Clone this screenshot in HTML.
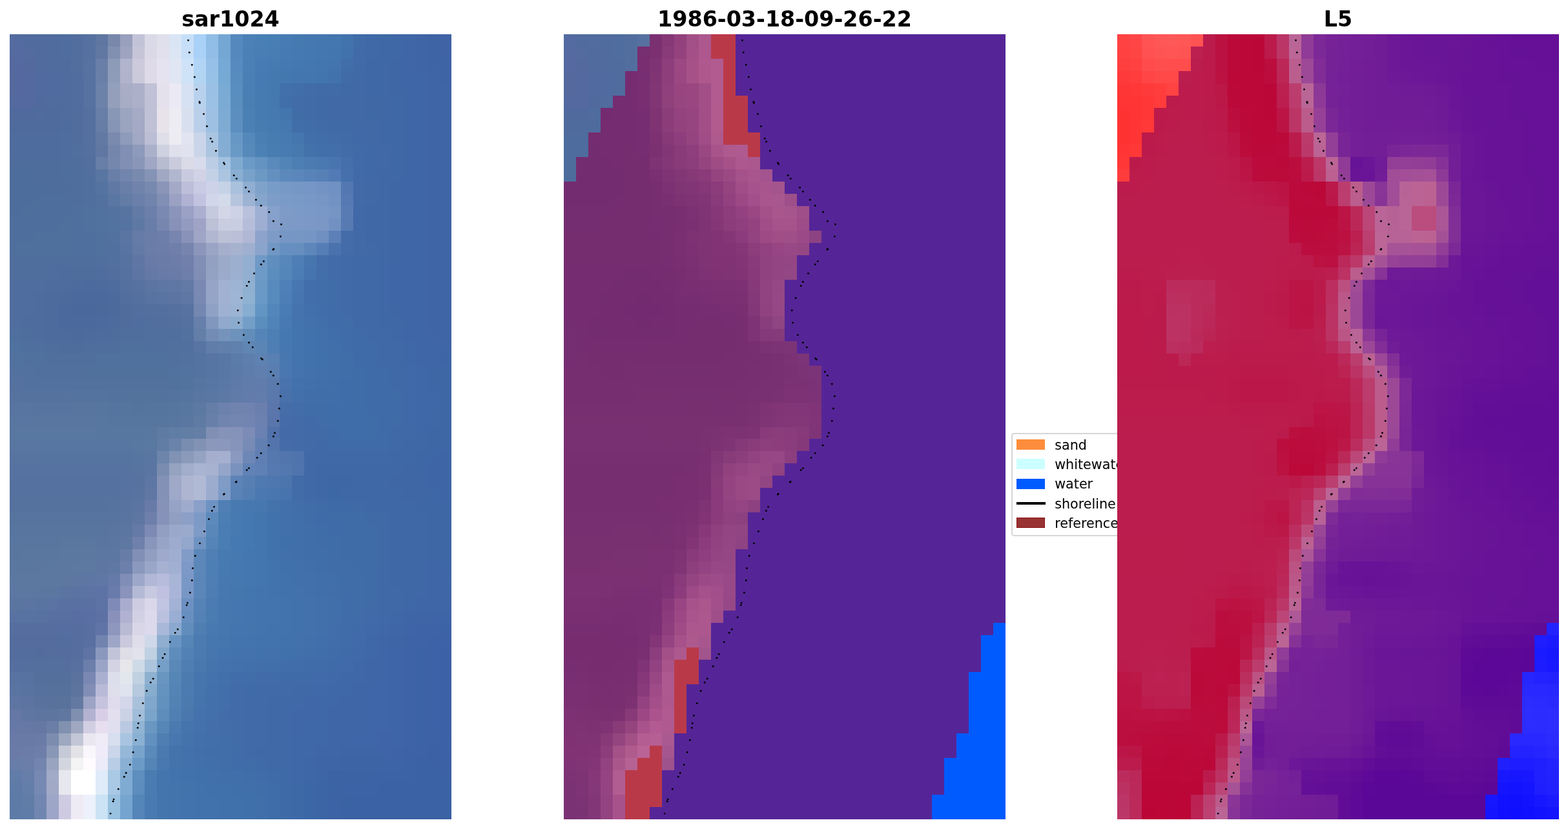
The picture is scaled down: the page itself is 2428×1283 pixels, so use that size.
<!DOCTYPE html>
<html lang="en">
<head>
<meta charset="utf-8">
<title>sar1024 1986-03-18-09-26-22 L5</title>
<style>
html,body{margin:0;padding:0;background:#fff}
html{width:2428px;height:1283px}
body{width:2428px;height:1283px;position:relative;font-family:"DejaVu Sans","Liberation Sans",sans-serif;color:#000}
.ax{position:absolute;top:53px;width:684px;height:1215px;overflow:hidden}
.ax i{position:absolute;left:0;width:684px;display:block}
.ax svg.sl{position:absolute;left:0;top:0}
h1{position:absolute;margin:0;top:9.6px;width:684px;text-align:center;font-weight:bold;font-size:33.33px;line-height:39px;height:39px;white-space:nowrap}
#legend{position:absolute;left:1565.9px;top:669.8px;width:260px;height:160.4px;box-sizing:border-box;border:2.2px solid rgba(204,204,204,.8);border-radius:4.5px;background:#fff;font-size:20.7px}
#legend .sw{position:absolute;left:6.0px;width:44px;height:16px}
#legend .ln{position:absolute;left:5.8px;width:45px;height:4px;background:#000}
#legend span{position:absolute;left:65.3px;line-height:26px;height:26px;white-space:nowrap}
</style>
</head>
<body>
<h1 style="left:15px">sar1024</h1>
<h1 style="left:873px">1986-03-18-09-26-22</h1>
<h1 style="left:1730px">L5</h1>
<div class="ax" id="ax1" style="left:15px">
<i style="top:0px;height:19px;background:linear-gradient(90deg,#536ba0 0 19px,#526b9f 0 38px,#516c9f 0 57px,#506c9f 0 76px,#506d9f 0 95px,#526e9f 0 114px,#5671a0 0 133px,#5e76a1 0 152px,#7888ab 0 171px,#99a0bd 0 190px,#c3c3d8 0 209px,#d9d9e7 0 228px,#dfe0eb 0 247px,#d9e5f4 0 266px,#c6dff9 0 285px,#aad1f7 0 304px,#90bde6 0 323px,#75a7d4 0 342px,#5589bd 0 361px,#4b81b6 0 380px,#487fb5 0 399px,#477eb4 0 418px,#467cb3 0 437px,#457ab1 0 456px,#4578b0 0 475px,#4477b0 0 494px,#4476af 0 513px,#4373ad 0 532px,#406ca8 0 551px,#3f6aa7 0 570px,#3f69a6 0 589px,#3f68a6 0 608px,#3f67a6 0 627px,#3f65a6 0 646px,#3f64a5 0 665px,#3f63a5 0)"></i>
<i style="top:19px;height:19px;background:linear-gradient(90deg,#546aa0 0 19px,#536b9f 0 38px,#516b9f 0 57px,#506c9f 0 76px,#506d9f 0 95px,#516e9f 0 114px,#5671a0 0 133px,#6078a2 0 152px,#8190b0 0 171px,#9ea4bf 0 190px,#c6c5d8 0 209px,#dbd9e7 0 228px,#e1e0ec 0 247px,#dbe5f4 0 266px,#c8dff9 0 285px,#aad1f7 0 304px,#91bde6 0 323px,#75a7d4 0 342px,#5589be 0 361px,#4a80b6 0 380px,#487eb4 0 399px,#467db3 0 418px,#457bb2 0 437px,#4479b1 0 456px,#4478b0 0 475px,#4477af 0 494px,#4375ae 0 513px,#4272ac 0 532px,#406ba8 0 551px,#3f6aa7 0 570px,#3f68a6 0 608px,#3f66a6 0 627px,#3f65a6 0 646px,#3f64a6 0 665px,#3f63a5 0)"></i>
<i style="top:38px;height:19px;background:linear-gradient(90deg,#5669a0 0 19px,#546a9f 0 38px,#516b9f 0 57px,#506c9f 0 95px,#516e9f 0 114px,#5772a1 0 133px,#697fa7 0 152px,#8e9bb8 0 171px,#b0b4cc 0 190px,#cccadb 0 209px,#dedae7 0 228px,#e5e3ef 0 247px,#e0e6f4 0 266px,#cee3f8 0 285px,#b2d5f5 0 304px,#96c0e7 0 323px,#76a9d5 0 342px,#578bbf 0 361px,#4a80b5 0 380px,#467cb3 0 399px,#457bb1 0 418px,#4479b1 0 437px,#4478b0 0 456px,#4477af 0 475px,#4376af 0 494px,#4374ad 0 513px,#416da9 0 532px,#406ba7 0 551px,#3f69a6 0 570px,#3f68a6 0 589px,#3f67a6 0 608px,#3f66a6 0 627px,#3f65a6 0 646px,#3f64a6 0)"></i>
<i style="top:57px;height:19px;background:linear-gradient(90deg,#56699f 0 19px,#54699f 0 38px,#516a9f 0 57px,#506b9f 0 76px,#506c9f 0 95px,#516d9f 0 114px,#5772a1 0 133px,#6a7fa7 0 152px,#8f9cb9 0 171px,#b0b3cb 0 190px,#cbcadb 0 209px,#dedae7 0 228px,#e5e3ef 0 247px,#e0e6f4 0 266px,#cee3f8 0 285px,#b2d5f4 0 304px,#97c1e6 0 323px,#77a9d5 0 342px,#578cbf 0 361px,#497fb5 0 380px,#457bb2 0 399px,#4479b0 0 418px,#4378af 0 437px,#4376ae 0 456px,#4375ae 0 475px,#4274ad 0 494px,#4272ac 0 513px,#406ba7 0 532px,#406aa6 0 551px,#3f69a6 0 570px,#3f68a6 0 589px,#3f67a6 0 608px,#3f66a6 0 646px,#3f65a6 0 665px,#3f64a6 0)"></i>
<i style="top:76px;height:19px;background:linear-gradient(90deg,#56699f 0 19px,#54699f 0 38px,#516a9f 0 57px,#506b9f 0 76px,#506c9f 0 95px,#516d9f 0 114px,#5771a0 0 133px,#6d82a9 0 152px,#94a0bb 0 171px,#a9adc6 0 190px,#adb0c9 0 209px,#c1c1d7 0 228px,#e5e1ec 0 247px,#ebe9f4 0 266px,#d6e1f3 0 285px,#b8d2ee 0 304px,#9ac1e5 0 323px,#7aabd5 0 342px,#598ec0 0 361px,#497fb4 0 380px,#457bb1 0 399px,#4479b0 0 418px,#4270aa 0 437px,#416ea9 0 456px,#416ca8 0 475px,#406ba7 0 513px,#406aa6 0 532px,#4069a6 0 551px,#3f68a6 0 589px,#3f67a6 0 627px,#3f66a6 0 646px,#3f65a6 0)"></i>
<i style="top:95px;height:19px;background:linear-gradient(90deg,#54699f 0 19px,#53699f 0 38px,#506a9e 0 57px,#506b9e 0 95px,#516c9f 0 114px,#5771a0 0 133px,#6d82a9 0 152px,#94a0bb 0 171px,#a7adc5 0 190px,#acb0c8 0 209px,#c0c1d6 0 228px,#e5e1ec 0 247px,#ebe9f4 0 266px,#d6e1f3 0 285px,#b8d2ee 0 304px,#9bc1e4 0 323px,#7babd5 0 342px,#5a8ebf 0 361px,#497fb3 0 380px,#467bb1 0 399px,#4478af 0 418px,#416fa9 0 437px,#416ca7 0 456px,#406ba6 0 475px,#406aa6 0 494px,#4069a6 0 513px,#4069a5 0 551px,#3f68a5 0 589px,#3f68a6 0 608px,#3f67a6 0 627px,#3f66a6 0 646px,#3f65a6 0)"></i>
<i style="top:114px;height:19px;background:linear-gradient(90deg,#516a9e 0 19px,#506a9e 0 38px,#506b9e 0 57px,#4f6b9e 0 76px,#506c9e 0 95px,#516d9e 0 114px,#55709f 0 133px,#677ea6 0 152px,#8897b5 0 171px,#9ca5c0 0 190px,#a5abc5 0 209px,#c0c1d6 0 228px,#e8e3eb 0 247px,#edecf3 0 266px,#d8e0ef 0 285px,#bacfea 0 304px,#9dc0e3 0 323px,#7dabd4 0 342px,#5c8fc0 0 361px,#4a80b4 0 380px,#467bb1 0 399px,#4579af 0 418px,#4376ad 0 437px,#416da7 0 456px,#406ba6 0 475px,#406aa6 0 494px,#4069a6 0 513px,#4069a5 0 551px,#3f69a5 0 570px,#3f68a5 0 589px,#3f68a6 0 608px,#3f67a6 0 627px,#3f66a6 0 646px,#3f65a6 0)"></i>
<i style="top:133px;height:19px;background:linear-gradient(90deg,#4f6b9e 0 76px,#4f6c9e 0 95px,#516d9e 0 114px,#55709f 0 133px,#677da5 0 152px,#8695b5 0 171px,#9aa4bf 0 190px,#a4aac5 0 209px,#c0c1d7 0 228px,#e8e3eb 0 247px,#edecf3 0 266px,#d8e0ef 0 285px,#bacfe9 0 304px,#9ec0e2 0 323px,#7fabd3 0 342px,#5d90c0 0 361px,#4b80b4 0 380px,#477cb1 0 399px,#457ab0 0 418px,#4478ae 0 437px,#416ea8 0 456px,#406ca7 0 475px,#406ba6 0 494px,#406aa6 0 532px,#4069a6 0 570px,#3f68a6 0 608px,#3f67a6 0 627px,#3f66a6 0 646px,#3f65a6 0)"></i>
<i style="top:152px;height:19px;background:linear-gradient(90deg,#4e6c9e 0 57px,#4f6c9e 0 76px,#4f6d9e 0 95px,#506d9e 0 114px,#54709f 0 133px,#627aa3 0 152px,#798aae 0 171px,#8e9bba 0 190px,#a1a8c4 0 209px,#bbbed4 0 228px,#dfdfe9 0 247px,#ececf2 0 266px,#e2e4f1 0 285px,#cad5ea 0 304px,#a9c4e1 0 323px,#84add4 0 342px,#6797c5 0 361px,#5488ba 0 380px,#4a7fb3 0 399px,#477cb1 0 418px,#467ab0 0 437px,#4577ae 0 456px,#426fa9 0 475px,#416da8 0 494px,#416ca7 0 513px,#406ba7 0 532px,#406aa7 0 551px,#4069a6 0 570px,#3f69a6 0 589px,#3f68a6 0 608px,#3f67a6 0 627px,#3f66a6 0 646px,#3f65a6 0)"></i>
<i style="top:171px;height:19px;background:linear-gradient(90deg,#4e6c9e 0 57px,#4e6d9e 0 76px,#4f6d9e 0 95px,#506e9e 0 114px,#54709f 0 133px,#5f77a2 0 152px,#7486ac 0 171px,#808fb3 0 190px,#8e9abb 0 209px,#abb1cb 0 228px,#ced1df 0 247px,#dfe0eb 0 266px,#e0e2ef 0 285px,#cbd5ea 0 304px,#abc4e0 0 323px,#85add3 0 342px,#6999c5 0 361px,#578abb 0 380px,#4b81b4 0 399px,#487db2 0 418px,#477bb1 0 437px,#4779af 0 456px,#4372ab 0 475px,#426faa 0 494px,#426ea9 0 513px,#416ca8 0 532px,#406ba7 0 551px,#406aa7 0 570px,#4069a6 0 589px,#3f68a6 0 608px,#3f67a6 0 627px,#3f66a6 0 646px,#3f65a6 0)"></i>
<i style="top:190px;height:19px;background:linear-gradient(90deg,#4e6d9d 0 76px,#4f6d9d 0 95px,#506e9d 0 114px,#526f9e 0 133px,#677ea6 0 152px,#7587ad 0 171px,#808fb3 0 190px,#8996b8 0 209px,#9fa7c4 0 228px,#b8bcd1 0 247px,#caccdd 0 266px,#dbdbe7 0 285px,#d7dbeb 0 304px,#bbcde5 0 323px,#a3c1e0 0 342px,#80aad0 0 361px,#6c9ac6 0 380px,#6493c1 0 399px,#598abb 0 418px,#5284b7 0 437px,#4d7eb4 0 456px,#4b7bb1 0 475px,#4a78b0 0 494px,#4975af 0 513px,#446faa 0 532px,#416ba8 0 551px,#406aa7 0 570px,#4069a6 0 589px,#3f68a6 0 608px,#3f67a6 0 627px,#3f66a6 0 646px,#3f65a6 0)"></i>
<i style="top:209px;height:19px;background:linear-gradient(90deg,#4d6d9d 0 38px,#4e6d9d 0 76px,#4e6e9d 0 95px,#4f6e9d 0 114px,#516f9e 0 133px,#5975a1 0 152px,#697fa7 0 171px,#7285ac 0 190px,#798aaf 0 209px,#8593b5 0 228px,#a0a8c3 0 247px,#b1b7ce 0 266px,#c9cadf 0 285px,#d2d2e6 0 304px,#c3d1e7 0 323px,#abc5e0 0 342px,#88aed2 0 361px,#79a2cb 0 380px,#6c98c4 0 399px,#6490c0 0 418px,#5c89bc 0 437px,#5a86bb 0 456px,#5883b9 0 475px,#5780b7 0 494px,#527ab4 0 513px,#4670ac 0 532px,#416ba8 0 551px,#406aa7 0 570px,#4068a6 0 589px,#3f68a6 0 608px,#3f67a6 0 627px,#3f66a6 0 646px,#3f65a6 0)"></i>
<i style="top:228px;height:19px;background:linear-gradient(90deg,#4d6d9c 0 38px,#4d6d9d 0 57px,#4e6d9d 0 95px,#4f6e9d 0 114px,#506f9e 0 133px,#5573a0 0 152px,#5f79a4 0 171px,#697fa8 0 190px,#7083ab 0 209px,#7889af 0 228px,#8a95b8 0 247px,#a3a9c6 0 266px,#bdbfda 0 285px,#c9cae4 0 304px,#ced2e8 0 323px,#c6d2e6 0 342px,#aac1dd 0 361px,#8faed2 0 380px,#7fa2cb 0 399px,#789cc8 0 418px,#7699c6 0 437px,#7597c6 0 456px,#7596c6 0 475px,#7293c4 0 494px,#7091c3 0 513px,#5277b1 0 532px,#416aa7 0 551px,#4069a6 0 570px,#4068a6 0 589px,#3f67a6 0 608px,#3f66a6 0 646px,#3f65a6 0)"></i>
<i style="top:247px;height:19px;background:linear-gradient(90deg,#4d6d9c 0 38px,#4e6e9c 0 57px,#4e6e9d 0 95px,#4f6e9d 0 114px,#506f9e 0 133px,#53719f 0 152px,#5a76a2 0 171px,#637ca6 0 190px,#6a7fa9 0 209px,#7184ac 0 228px,#828fb5 0 247px,#9aa1c3 0 266px,#b0b2d3 0 285px,#c2c3e1 0 304px,#d2d6ea 0 323px,#d3dbeb 0 342px,#b6c5dd 0 361px,#9cb3d4 0 380px,#86a5cc 0 399px,#7d9dc8 0 418px,#7a9ac7 0 437px,#7999c7 0 456px,#7898c7 0 475px,#7796c6 0 494px,#7292c4 0 513px,#5779b3 0 532px,#416aa7 0 551px,#4069a6 0 570px,#4068a6 0 589px,#3f67a6 0 608px,#3f66a6 0 646px,#3f65a6 0)"></i>
<i style="top:266px;height:19px;background:linear-gradient(90deg,#4d6e9c 0 19px,#4e6e9c 0 38px,#4e6e9d 0 76px,#4e6f9d 0 95px,#4f6f9e 0 114px,#50709e 0 133px,#51719f 0 152px,#5472a0 0 171px,#5774a1 0 190px,#627aa6 0 209px,#6b7faa 0 228px,#7a89b1 0 247px,#8b94bb 0 266px,#9ba1c5 0 285px,#abb0d0 0 304px,#c5cade 0 323px,#d2d6e6 0 342px,#ced2e6 0 361px,#b9c1dc 0 380px,#9eb0d3 0 399px,#86a1cb 0 418px,#7e9bc8 0 437px,#7c9ac7 0 456px,#7b99c7 0 475px,#7a98c7 0 494px,#7695c5 0 513px,#597bb4 0 532px,#4169a7 0 551px,#4068a6 0 589px,#3f67a6 0 608px,#3f66a6 0 646px,#3f65a6 0)"></i>
<i style="top:285px;height:19px;background:linear-gradient(90deg,#4e6f9d 0 76px,#4f6f9d 0 95px,#4f6f9e 0 114px,#50709e 0 133px,#51719f 0 152px,#5272a0 0 171px,#5573a1 0 190px,#5e78a4 0 209px,#697da9 0 228px,#7786af 0 247px,#8892b9 0 266px,#949bc1 0 285px,#9fa4c7 0 304px,#bdc1d8 0 323px,#c9cde0 0 342px,#c9cde1 0 361px,#b5bdda 0 380px,#9eaed2 0 399px,#869fca 0 418px,#7d9ac7 0 437px,#7c99c7 0 456px,#7b98c6 0 475px,#7a97c6 0 494px,#7291c3 0 513px,#577ab3 0 532px,#4169a7 0 551px,#4068a6 0 589px,#3f67a6 0 608px,#3f66a6 0 646px,#3f65a6 0)"></i>
<i style="top:304px;height:19px;background:linear-gradient(90deg,#4e6f9d 0 38px,#4f6f9d 0 95px,#4f709e 0 133px,#50709e 0 152px,#52719f 0 171px,#5a75a2 0 190px,#667ba7 0 209px,#697da8 0 228px,#6c7ea9 0 247px,#7785af 0 266px,#8993ba 0 285px,#9ea5c7 0 304px,#b2b7d1 0 323px,#bdc1d7 0 342px,#bbc0d8 0 361px,#b0b8d6 0 380px,#8da3cb 0 399px,#7e9bc7 0 418px,#7697c5 0 437px,#7696c4 0 456px,#7595c4 0 475px,#7090c1 0 494px,#5c80b7 0 513px,#446ca9 0 532px,#416aa7 0 551px,#4068a6 0 570px,#3f68a6 0 589px,#3f67a6 0 608px,#3f66a6 0 646px,#3f65a6 0)"></i>
<i style="top:323px;height:19px;background:linear-gradient(90deg,#4f6f9d 0 95px,#4f6f9e 0 133px,#50709e 0 152px,#52709f 0 171px,#5874a2 0 190px,#647aa6 0 209px,#6a7ca8 0 228px,#6c7da9 0 247px,#6f7faa 0 266px,#7785ae 0 285px,#8c96bb 0 304px,#9aa4c5 0 323px,#a5afcc 0 342px,#a7b2cf 0 361px,#9fafd0 0 380px,#8aa4cb 0 399px,#7197c4 0 418px,#6690c1 0 437px,#668fc0 0 456px,#5d87bb 0 475px,#547eb5 0 494px,#4a73ae 0 513px,#436ca9 0 532px,#416aa7 0 551px,#4069a6 0 570px,#3f68a6 0 589px,#3f67a6 0 608px,#3f66a6 0 646px,#3f65a6 0)"></i>
<i style="top:342px;height:19px;background:linear-gradient(90deg,#4f6e9e 0 133px,#506e9e 0 152px,#516f9f 0 171px,#5672a0 0 190px,#5f76a4 0 209px,#687aa7 0 228px,#6a7ba8 0 247px,#6c7da9 0 266px,#7080ab 0 285px,#818fb6 0 304px,#94a0c2 0 323px,#9caaca 0 342px,#9cafcf 0 361px,#93aed0 0 380px,#6f99c6 0 399px,#5f8ebf 0 418px,#5787bb 0 437px,#4e7eb5 0 456px,#4776af 0 475px,#436eaa 0 494px,#426ca9 0 513px,#416ba8 0 532px,#406aa7 0 551px,#4069a7 0 570px,#3f68a6 0 589px,#3f67a6 0 608px,#3f66a6 0 646px,#3f65a6 0)"></i>
<i style="top:361px;height:19px;background:linear-gradient(90deg,#4f6e9e 0 57px,#4f6d9e 0 76px,#4e6d9e 0 95px,#4e6d9d 0 133px,#4f6d9e 0 152px,#516e9e 0 171px,#5571a0 0 190px,#5d75a3 0 209px,#6579a6 0 228px,#687aa7 0 247px,#697ba8 0 266px,#6e7fab 0 285px,#808eb6 0 304px,#93a1c3 0 323px,#9baacb 0 342px,#9bafd0 0 361px,#92afd1 0 380px,#6d9ac7 0 399px,#5c8dbf 0 418px,#5486ba 0 437px,#4c7db4 0 456px,#4674ae 0 475px,#426eaa 0 494px,#416ca9 0 513px,#406ba8 0 532px,#406aa7 0 551px,#4069a7 0 570px,#3f68a7 0 589px,#3f67a7 0 608px,#3f66a6 0 646px,#3f65a6 0)"></i>
<i style="top:380px;height:19px;background:linear-gradient(90deg,#4f6d9e 0 57px,#4e6c9e 0 76px,#4e6c9d 0 95px,#4d6b9d 0 114px,#4c6a9d 0 133px,#4d6b9d 0 152px,#4e6c9d 0 171px,#54709f 0 190px,#5772a0 0 209px,#5c74a2 0 228px,#5d76a3 0 247px,#5f77a4 0 266px,#6379a6 0 285px,#7989b3 0 304px,#96a4c7 0 323px,#a0b1d2 0 342px,#9eb4d5 0 361px,#90b0d2 0 380px,#6a99c6 0 399px,#588abd 0 418px,#4f80b7 0 437px,#4776b0 0 456px,#426fab 0 475px,#416da9 0 494px,#406ca8 0 513px,#406aa8 0 532px,#4069a7 0 570px,#3f68a7 0 589px,#3f67a7 0 608px,#3f66a6 0 646px,#3f65a6 0)"></i>
<i style="top:399px;height:19px;background:linear-gradient(90deg,#4f6d9e 0 38px,#4f6c9e 0 57px,#4e6b9e 0 76px,#4d6a9d 0 95px,#4c699d 0 114px,#4b699d 0 133px,#4c699d 0 152px,#4d6a9d 0 171px,#526e9e 0 190px,#54709f 0 209px,#5872a1 0 228px,#5974a2 0 247px,#5b74a2 0 266px,#5f77a5 0 285px,#7889b3 0 304px,#95a5c8 0 323px,#a0b1d2 0 342px,#9eb5d5 0 361px,#8fb1d2 0 380px,#6999c6 0 399px,#578abd 0 418px,#4d7fb6 0 437px,#4675af 0 456px,#426fab 0 475px,#416da9 0 494px,#406ca8 0 513px,#406aa8 0 532px,#4069a7 0 551px,#3f69a7 0 570px,#3f68a7 0 589px,#3f67a7 0 608px,#3f66a6 0 646px,#3f65a6 0)"></i>
<i style="top:418px;height:19px;background:linear-gradient(90deg,#4f6d9e 0 38px,#4e6c9e 0 57px,#4e6b9d 0 76px,#4c699d 0 95px,#4b689d 0 114px,#4b689c 0 133px,#4c699c 0 152px,#4d6a9d 0 171px,#4f6c9d 0 190px,#516e9e 0 209px,#526f9e 0 228px,#536f9f 0 247px,#54709f 0 266px,#5772a1 0 285px,#7387b1 0 304px,#90a1c6 0 323px,#9fb1d2 0 342px,#9bb4d4 0 361px,#87add0 0 380px,#6395c3 0 399px,#5386ba 0 418px,#497bb4 0 437px,#4473ae 0 456px,#4270ac 0 475px,#416eaa 0 494px,#406ca9 0 513px,#406ba8 0 532px,#3f6aa7 0 551px,#3f69a7 0 570px,#3f68a7 0 589px,#3f67a6 0 608px,#3f66a6 0 646px,#3f65a6 0)"></i>
<i style="top:437px;height:19px;background:linear-gradient(90deg,#4f6e9f 0 19px,#4e6d9e 0 38px,#4e6c9e 0 57px,#4d6b9d 0 76px,#4c699d 0 133px,#4c6a9d 0 152px,#4d6b9d 0 171px,#4f6c9d 0 190px,#4f6d9e 0 209px,#506e9e 0 228px,#516e9e 0 247px,#526f9e 0 266px,#5571a0 0 285px,#677fab 0 304px,#8197be 0 323px,#91a9cc 0 342px,#8babce 0 361px,#739ec7 0 380px,#5b8dbd 0 399px,#5083b8 0 418px,#4879b2 0 437px,#4374ae 0 456px,#4271ac 0 475px,#416faa 0 494px,#406da9 0 513px,#406ca8 0 532px,#3f6aa7 0 551px,#3f69a7 0 570px,#3f68a7 0 608px,#3f67a6 0 627px,#3f66a6 0 646px,#3f65a6 0)"></i>
<i style="top:456px;height:19px;background:linear-gradient(90deg,#4f709f 0 19px,#4e6e9e 0 38px,#4e6d9e 0 57px,#4d6c9d 0 76px,#4d6b9d 0 95px,#4d6a9d 0 114px,#4d6c9d 0 133px,#4e6c9d 0 152px,#4e6d9d 0 171px,#4f6e9d 0 190px,#4f6e9e 0 209px,#506e9e 0 228px,#506f9e 0 247px,#516f9e 0 266px,#53719f 0 285px,#647eaa 0 304px,#728cb5 0 323px,#7593bb 0 342px,#6d92bc 0 361px,#628dbb 0 380px,#5585b8 0 399px,#4d7fb5 0 418px,#4577b0 0 437px,#4374ae 0 456px,#4272ac 0 475px,#4170ab 0 494px,#406eaa 0 513px,#406da9 0 532px,#3f6ba8 0 551px,#3f6aa7 0 570px,#3f69a7 0 589px,#3f68a7 0 608px,#3f67a7 0 627px,#3f66a6 0 665px,#3f65a6 0)"></i>
<i style="top:475px;height:19px;background:linear-gradient(90deg,#4f719f 0 19px,#4f709e 0 38px,#4f6f9e 0 57px,#4f6e9d 0 76px,#4e6d9d 0 114px,#4f6e9d 0 171px,#4f6f9d 0 209px,#4f6f9e 0 228px,#506f9e 0 247px,#51709e 0 266px,#52709f 0 285px,#5774a2 0 304px,#607da9 0 323px,#607fab 0 342px,#6081ae 0 361px,#6086b4 0 380px,#5b85b5 0 399px,#4f7eb4 0 418px,#4677b0 0 437px,#4474ae 0 456px,#4272ad 0 475px,#4170ab 0 494px,#406faa 0 513px,#406da9 0 532px,#3f6ca8 0 551px,#3f6ba8 0 570px,#3f6aa7 0 589px,#3f69a7 0 608px,#3f68a7 0 627px,#3f67a7 0 646px,#3f66a6 0)"></i>
<i style="top:494px;height:19px;background:linear-gradient(90deg,#51719f 0 19px,#50709e 0 57px,#506f9d 0 133px,#50709d 0 247px,#51709e 0 266px,#52719f 0 285px,#5473a1 0 304px,#5775a3 0 323px,#5877a5 0 342px,#5b7ba9 0 361px,#5e7fae 0 380px,#5e82b1 0 399px,#5880b2 0 418px,#4978b0 0 437px,#4474ae 0 456px,#4272ac 0 475px,#4171ab 0 494px,#406faa 0 513px,#406ea9 0 532px,#3f6ca8 0 551px,#3f6ba8 0 570px,#3f6aa7 0 589px,#3f69a7 0 608px,#3f68a7 0 627px,#3f67a7 0 646px,#3f67a6 0 665px,#3e66a6 0)"></i>
<i style="top:513px;height:19px;background:linear-gradient(90deg,#52719f 0 19px,#52719e 0 38px,#51709e 0 76px,#51709d 0 114px,#51719d 0 247px,#51719e 0 266px,#52729f 0 285px,#5473a0 0 304px,#5675a3 0 323px,#5877a5 0 342px,#5b7aa8 0 361px,#5f7dac 0 380px,#607faf 0 399px,#5a7eb0 0 418px,#4a77af 0 437px,#4473ad 0 456px,#4271ac 0 475px,#4170ab 0 494px,#406faa 0 513px,#406ea9 0 532px,#3f6da8 0 551px,#3f6ca8 0 570px,#3f6ba8 0 589px,#3f6aa7 0 608px,#3f69a7 0 627px,#3e68a7 0 646px,#3e67a6 0)"></i>
<i style="top:532px;height:19px;background:linear-gradient(90deg,#54719f 0 19px,#53719f 0 38px,#53719e 0 95px,#52719e 0 114px,#52729d 0 247px,#52729e 0 266px,#53739f 0 285px,#5675a1 0 304px,#5876a3 0 323px,#5a78a5 0 342px,#5e7aa8 0 361px,#5f7caa 0 380px,#607cac 0 399px,#5a7aad 0 418px,#4973ac 0 437px,#4371ab 0 456px,#4170ab 0 475px,#406faa 0 494px,#406ea9 0 513px,#3f6da9 0 532px,#3f6da8 0 551px,#3f6ca8 0 570px,#3f6ba8 0 589px,#3f6aa7 0 608px,#3f69a7 0 627px,#3e68a7 0 646px,#3e67a6 0)"></i>
<i style="top:551px;height:19px;background:linear-gradient(90deg,#56729f 0 19px,#55729f 0 76px,#55729e 0 95px,#54739e 0 152px,#53739e 0 190px,#53739d 0 228px,#53739e 0 247px,#54739e 0 266px,#55749f 0 285px,#5876a1 0 304px,#5a77a3 0 323px,#5c79a5 0 342px,#617ba9 0 361px,#627baa 0 380px,#627cac 0 399px,#5b78ac 0 418px,#4971aa 0 437px,#436faa 0 456px,#416ea9 0 475px,#406ea9 0 494px,#3f6ea9 0 513px,#3f6da9 0 532px,#3f6da8 0 551px,#3f6ca8 0 570px,#3f6ba8 0 589px,#3f6ba7 0 608px,#3f69a7 0 627px,#3e68a7 0 665px,#3e67a6 0)"></i>
<i style="top:570px;height:19px;background:linear-gradient(90deg,#5874a0 0 38px,#5774a0 0 95px,#57759f 0 133px,#56759f 0 152px,#55749f 0 171px,#55749e 0 190px,#54749e 0 209px,#55759e 0 247px,#56759f 0 266px,#5776a0 0 285px,#5c79a3 0 304px,#657ea8 0 323px,#6c81ad 0 342px,#7083af 0 361px,#6f82b0 0 380px,#6b7faf 0 399px,#5a76ab 0 418px,#456da8 0 437px,#426da8 0 456px,#406da8 0 494px,#3f6da9 0 532px,#3f6da8 0 551px,#3f6ca8 0 589px,#3f6ba8 0 608px,#3f6aa7 0 627px,#3e68a7 0 646px,#3e68a6 0 665px,#3e67a6 0)"></i>
<i style="top:589px;height:19px;background:linear-gradient(90deg,#5876a1 0 38px,#5876a0 0 133px,#5776a0 0 152px,#5676a0 0 171px,#56769f 0 228px,#57769f 0 247px,#5877a0 0 266px,#5977a1 0 285px,#5f7ba4 0 304px,#6880a9 0 323px,#7084ae 0 342px,#7385b1 0 361px,#7284b1 0 380px,#6d81b0 0 399px,#5975ab 0 418px,#456ca8 0 437px,#426ba8 0 456px,#406ba8 0 475px,#406ca8 0 494px,#3f6da8 0 513px,#3f6da9 0 551px,#3f6da8 0 570px,#3f6ca8 0 589px,#3f6ba7 0 608px,#3f69a7 0 627px,#3e68a7 0 646px,#3e68a6 0 665px,#3e67a6 0)"></i>
<i style="top:608px;height:18px;background:linear-gradient(90deg,#5877a1 0 133px,#5777a1 0 152px,#5777a0 0 190px,#5777a1 0 209px,#5878a1 0 228px,#5e7ba4 0 247px,#607da5 0 266px,#627ea5 0 285px,#647ea6 0 304px,#8090b5 0 323px,#8693b9 0 342px,#8592b9 0 361px,#7c8cb6 0 380px,#6a81b1 0 399px,#5071aa 0 418px,#446ba7 0 437px,#426ba7 0 456px,#416aa7 0 475px,#406ba7 0 494px,#3f6ca8 0 513px,#3f6da9 0 551px,#3f6da8 0 570px,#3f6ca8 0 589px,#3f6aa7 0 608px,#3f69a7 0 627px,#3e68a6 0 646px,#3e67a6 0)"></i>
<i style="top:626px;height:19px;background:linear-gradient(90deg,#5876a1 0 38px,#5776a1 0 190px,#5877a1 0 209px,#5978a2 0 228px,#617da5 0 247px,#6a83a9 0 266px,#798db1 0 285px,#8192b5 0 304px,#8b98bc 0 323px,#8b97bc 0 342px,#8694bb 0 361px,#788bb7 0 380px,#627fb2 0 399px,#5374ad 0 418px,#456ca8 0 437px,#436ba7 0 456px,#416aa7 0 475px,#406aa7 0 494px,#3f6ba8 0 513px,#3f6ca8 0 570px,#3f6ba8 0 589px,#3f6aa7 0 608px,#3f68a6 0 627px,#3e68a6 0 646px,#3e67a6 0)"></i>
<i style="top:645px;height:19px;background:linear-gradient(90deg,#5774a1 0 38px,#5674a0 0 95px,#5574a0 0 152px,#5674a0 0 190px,#5775a1 0 209px,#5876a1 0 228px,#6d85ab 0 247px,#8093b5 0 266px,#8a9aba 0 285px,#95a3c2 0 304px,#a5afcd 0 323px,#a5afcf 0 342px,#8a99c0 0 361px,#6d87b7 0 380px,#5f7eb3 0 399px,#5578af 0 418px,#5375ae 0 437px,#4f73ac 0 456px,#4169a7 0 475px,#4069a7 0 494px,#3f69a7 0 513px,#3f6aa7 0 570px,#3f69a7 0 589px,#3f68a6 0 627px,#3e67a6 0 665px,#3e66a6 0)"></i>
<i style="top:664px;height:19px;background:linear-gradient(90deg,#5672a0 0 19px,#5572a0 0 171px,#5672a0 0 190px,#5773a0 0 209px,#5b75a2 0 228px,#798cb0 0 247px,#95a3c1 0 266px,#a1adca 0 285px,#a9b4d0 0 304px,#a7b2d0 0 323px,#95a5c9 0 342px,#7a92be 0 361px,#6182b6 0 380px,#5e80b4 0 399px,#5579b0 0 418px,#5377af 0 437px,#5074ad 0 456px,#4169a7 0 475px,#3f68a6 0 494px,#3e68a6 0 532px,#3f68a6 0 608px,#3f67a6 0 627px,#3e67a6 0 646px,#3e66a6 0)"></i>
<i style="top:683px;height:19px;background:linear-gradient(90deg,#55719f 0 38px,#54719f 0 152px,#55719f 0 171px,#5672a0 0 190px,#5872a0 0 209px,#5e76a3 0 228px,#8291b5 0 247px,#9fa9c7 0 266px,#adb5d1 0 285px,#b1bad5 0 304px,#9bacce 0 323px,#809bc6 0 342px,#5d83b7 0 361px,#577fb4 0 380px,#4f79b1 0 399px,#4e77af 0 418px,#4c75ae 0 437px,#426ca8 0 456px,#4069a7 0 475px,#3e68a6 0 494px,#3e67a6 0 532px,#3f68a6 0 589px,#3f67a6 0 646px,#3e66a6 0)"></i>
<i style="top:702px;height:19px;background:linear-gradient(90deg,#55719f 0 57px,#54719f 0 133px,#55719f 0 171px,#5772a0 0 190px,#5973a1 0 209px,#6076a3 0 228px,#8491b6 0 247px,#9ea8c8 0 266px,#adb5d1 0 285px,#b1bad5 0 304px,#9aabce 0 323px,#7d9bc7 0 342px,#5983b7 0 361px,#537eb4 0 380px,#4b78b0 0 399px,#4a76af 0 418px,#4874ad 0 437px,#416ca8 0 456px,#406aa7 0 475px,#3e69a6 0 494px,#3d68a6 0 513px,#3e68a6 0 532px,#3f68a6 0 608px,#3f67a6 0 646px,#3e67a6 0 665px,#3e66a6 0)"></i>
<i style="top:721px;height:19px;background:linear-gradient(90deg,#55729f 0 152px,#56739f 0 171px,#5873a0 0 190px,#5c74a2 0 209px,#687ba8 0 228px,#8692b8 0 247px,#97a3c6 0 266px,#9fabcd 0 285px,#8aa0c9 0 304px,#6e93c3 0 323px,#4f7fb5 0 342px,#487ab1 0 361px,#4779b0 0 380px,#4677af 0 399px,#4473ac 0 418px,#4270ab 0 437px,#416ea9 0 456px,#406ca8 0 475px,#3f6ba7 0 494px,#3e6aa7 0 532px,#3f6aa6 0 551px,#3f69a6 0 589px,#3f68a6 0 627px,#3e67a6 0)"></i>
<i style="top:740px;height:19px;background:linear-gradient(90deg,#56749f 0 152px,#5774a0 0 171px,#5974a0 0 190px,#5e76a2 0 209px,#6e7fab 0 228px,#8692b9 0 247px,#909ec2 0 266px,#8c9fc6 0 285px,#7d9ac6 0 304px,#5d8abc 0 323px,#4b7eb3 0 342px,#477ab1 0 361px,#4578b0 0 380px,#4476ae 0 399px,#4272ac 0 418px,#4170aa 0 437px,#406fa9 0 456px,#406da8 0 475px,#3f6ca8 0 494px,#3f6ca7 0 513px,#3f6ba7 0 551px,#3f6aa6 0 589px,#3f69a6 0 608px,#3f68a6 0 627px,#3e68a6 0 646px,#3e67a6 0)"></i>
<i style="top:759px;height:19px;background:linear-gradient(90deg,#57759f 0 114px,#58759f 0 133px,#5875a0 0 152px,#5975a0 0 171px,#5c76a2 0 190px,#667aa7 0 209px,#7f8ab4 0 228px,#929ec2 0 247px,#9aa8cb 0 266px,#99aacd 0 285px,#7e9bc7 0 304px,#5987ba 0 323px,#4a7db3 0 342px,#467ab1 0 361px,#4478b0 0 380px,#4376ae 0 399px,#4172ac 0 418px,#4170aa 0 437px,#406fa9 0 456px,#406ea9 0 475px,#3f6da8 0 494px,#3f6ca8 0 513px,#3f6ca7 0 532px,#3f6ba7 0 551px,#3f6ba6 0 570px,#3f6aa6 0 589px,#3f69a6 0 608px,#3f68a6 0 627px,#3e68a6 0 646px,#3e67a6 0)"></i>
<i style="top:778px;height:19px;background:linear-gradient(90deg,#58769f 0 76px,#59779f 0 114px,#5977a0 0 133px,#5a76a0 0 152px,#5b76a1 0 171px,#5e77a3 0 190px,#6f80ac 0 209px,#8a95bb 0 228px,#98a4c7 0 247px,#9dacce 0 266px,#93a6cc 0 285px,#6f93c2 0 304px,#5584b8 0 323px,#497db3 0 342px,#4579b1 0 361px,#4478b0 0 380px,#4375ae 0 399px,#4172ac 0 418px,#4070aa 0 437px,#406fa9 0 456px,#406ea9 0 475px,#406da8 0 494px,#3f6da8 0 513px,#3f6ca7 0 532px,#3f6ba7 0 570px,#3f6aa6 0 589px,#3f69a6 0 608px,#3f68a6 0 627px,#3e68a6 0 646px,#3e67a6 0)"></i>
<i style="top:797px;height:19px;background:linear-gradient(90deg,#59769f 0 19px,#59779f 0 57px,#5a779f 0 76px,#5b78a0 0 114px,#5c78a0 0 133px,#5c77a1 0 152px,#5c77a2 0 171px,#677da8 0 190px,#818fb6 0 209px,#919dc1 0 228px,#9ea9cc 0 247px,#9faed0 0 266px,#829cc8 0 285px,#5c87ba 0 304px,#4f7fb4 0 323px,#477ab1 0 342px,#4579b0 0 361px,#4477af 0 380px,#4375ae 0 399px,#4172ac 0 418px,#4170aa 0 437px,#406faa 0 456px,#406ea9 0 475px,#406ea8 0 494px,#406da8 0 513px,#3f6ca7 0 532px,#3f6ba7 0 570px,#3f6aa6 0 589px,#3f69a6 0 608px,#3f68a6 0 646px,#3e67a6 0)"></i>
<i style="top:816px;height:19px;background:linear-gradient(90deg,#5a77a0 0 38px,#5b77a0 0 57px,#5b78a0 0 76px,#5c78a0 0 95px,#5d78a1 0 133px,#5d77a2 0 152px,#5f78a4 0 171px,#6c80ab 0 190px,#8c99be 0 209px,#99a6c8 0 228px,#a6b0d1 0 247px,#a1afd2 0 266px,#7c99c7 0 285px,#5c87b9 0 304px,#4e7fb4 0 323px,#477ab1 0 342px,#4578b0 0 361px,#4477af 0 380px,#4375ae 0 399px,#4273ac 0 418px,#4171ab 0 437px,#4170aa 0 456px,#406fa9 0 475px,#406ea9 0 494px,#406da8 0 513px,#406ca8 0 532px,#3f6ca7 0 551px,#3f6ba7 0 570px,#3f6aa6 0 589px,#3f69a6 0 608px,#3f68a6 0 646px,#3f67a7 0 665px,#3e67a7 0)"></i>
<i style="top:835px;height:19px;background:linear-gradient(90deg,#5c78a1 0 76px,#5d77a1 0 95px,#5d77a2 0 114px,#5e76a3 0 133px,#5f77a4 0 152px,#657aa8 0 171px,#808eb7 0 190px,#9da7c9 0 209px,#b0b8d5 0 228px,#b7bcdc 0 247px,#a9b5d7 0 266px,#7a98c7 0 285px,#5b86b9 0 304px,#4e7eb3 0 323px,#4779b0 0 342px,#4578af 0 361px,#4476af 0 380px,#4375ae 0 399px,#4273ad 0 418px,#4272ab 0 437px,#4170ab 0 456px,#4170aa 0 475px,#406fa9 0 494px,#406ea9 0 513px,#406da8 0 532px,#406ca7 0 551px,#3f6ba7 0 570px,#3f6aa7 0 589px,#3f69a6 0 608px,#3f68a7 0 646px,#3f67a7 0)"></i>
<i style="top:854px;height:19px;background:linear-gradient(90deg,#5c77a2 0 38px,#5c76a2 0 76px,#5b74a2 0 95px,#5b73a3 0 114px,#5c73a4 0 133px,#5e73a5 0 152px,#697bab 0 171px,#8993bb 0 190px,#b4b9d6 0 209px,#c7c9e1 0 228px,#c0c1e0 0 247px,#a9b5d8 0 266px,#7897c6 0 285px,#5b86b9 0 304px,#4d7db3 0 323px,#4779b0 0 342px,#4577af 0 361px,#4476ae 0 380px,#4374ad 0 399px,#4273ad 0 418px,#4272ac 0 437px,#4271ab 0 456px,#4170ab 0 475px,#416faa 0 494px,#416ea9 0 513px,#406da8 0 532px,#406ca8 0 551px,#3f6ba7 0 570px,#3f6aa7 0 589px,#3f69a7 0 608px,#3f68a7 0 646px,#3f67a7 0 665px,#3f66a7 0)"></i>
<i style="top:873px;height:19px;background:linear-gradient(90deg,#5b75a1 0 19px,#5b74a1 0 38px,#5a74a1 0 57px,#5a73a2 0 76px,#5970a2 0 114px,#5a70a3 0 133px,#5d72a5 0 152px,#7f8ab7 0 171px,#a9accd 0 190px,#cecce1 0 209px,#d9d7e9 0 228px,#c1c5e1 0 247px,#a2b2d6 0 266px,#6d91c2 0 285px,#5683b7 0 304px,#4b7bb2 0 323px,#4678af 0 342px,#4576af 0 361px,#4475ae 0 380px,#4374ad 0 418px,#4273ac 0 437px,#4272ac 0 456px,#4271ab 0 475px,#4170aa 0 494px,#416faa 0 513px,#406da9 0 532px,#406ca8 0 551px,#406ba7 0 570px,#3f6aa7 0 589px,#3f69a7 0 608px,#3f68a7 0 627px,#3f67a7 0 646px,#3f66a7 0)"></i>
<i style="top:892px;height:19px;background:linear-gradient(90deg,#5972a1 0 19px,#5872a1 0 38px,#5871a1 0 57px,#5870a1 0 76px,#576fa1 0 95px,#586ea2 0 114px,#596ea3 0 133px,#5d71a5 0 152px,#8991bb 0 171px,#b1b2d1 0 190px,#d2d1e4 0 209px,#dbd9eb 0 228px,#bac1df 0 247px,#9aaed4 0 266px,#678fc0 0 285px,#5482b6 0 304px,#4a7bb1 0 323px,#4677af 0 342px,#4576ae 0 361px,#4475ae 0 380px,#4374ad 0 418px,#4273ac 0 437px,#4272ac 0 456px,#4271ab 0 475px,#4170ab 0 494px,#416faa 0 513px,#406da9 0 532px,#406ca8 0 551px,#406aa8 0 570px,#3f69a7 0 589px,#3f68a7 0 608px,#3f67a7 0 627px,#3e66a7 0 646px,#3e65a7 0)"></i>
<i style="top:911px;height:19px;background:linear-gradient(90deg,#556e9f 0 76px,#556da0 0 95px,#566da0 0 114px,#596fa2 0 133px,#6174a7 0 152px,#8e97be 0 171px,#b9bad4 0 190px,#d9d7e7 0 209px,#dbd9eb 0 228px,#a9b8d8 0 247px,#8ba9cf 0 266px,#618dbd 0 285px,#4f7eb3 0 304px,#4879b0 0 323px,#4677ae 0 342px,#4475ae 0 361px,#4475ad 0 380px,#4374ad 0 399px,#4373ad 0 418px,#4273ac 0 437px,#4272ac 0 456px,#4271ab 0 475px,#4170ab 0 494px,#416eaa 0 513px,#406da9 0 532px,#406ba9 0 551px,#3f69a8 0 570px,#3f68a8 0 589px,#3f66a7 0 608px,#3e65a7 0 627px,#3e64a7 0 665px,#3d63a7 0)"></i>
<i style="top:930px;height:19px;background:linear-gradient(90deg,#546d9e 0 57px,#546c9e 0 76px,#546d9f 0 95px,#566d9f 0 114px,#596fa2 0 133px,#7183af 0 152px,#9ea6c7 0 171px,#cac9dd 0 190px,#dfdde9 0 209px,#cfd8e8 0 228px,#8faed0 0 247px,#6994c1 0 266px,#5685b7 0 285px,#4b7bb1 0 304px,#4777af 0 323px,#4576ae 0 342px,#4474ad 0 361px,#4374ad 0 380px,#4373ac 0 418px,#4272ac 0 437px,#4271ab 0 456px,#4170ab 0 475px,#416fab 0 494px,#416eaa 0 513px,#406ca9 0 532px,#406aa9 0 551px,#3f68a8 0 570px,#3f67a8 0 589px,#3e66a7 0 608px,#3e64a7 0 627px,#3e63a7 0 646px,#3d62a7 0)"></i>
<i style="top:949px;height:19px;background:linear-gradient(90deg,#546d9e 0 19px,#536d9e 0 38px,#536c9d 0 57px,#546d9d 0 76px,#546d9e 0 95px,#566e9f 0 114px,#5f74a4 0 133px,#8a98be 0 152px,#c2c5da 0 171px,#dfdde7 0 190px,#e1e2eb 0 209px,#bfd1e2 0 228px,#80a6cb 0 247px,#5e8cbb 0 266px,#5282b5 0 285px,#4a7ab0 0 304px,#4676ad 0 323px,#4474ad 0 342px,#4373ac 0 361px,#4372ac 0 380px,#4272ab 0 399px,#4271ab 0 418px,#4171ab 0 437px,#4170ab 0 456px,#416faa 0 475px,#406eaa 0 494px,#406caa 0 513px,#406ba9 0 532px,#4069a9 0 551px,#3f68a8 0 570px,#3f66a8 0 589px,#3e65a8 0 608px,#3e64a7 0 627px,#3d63a7 0 646px,#3d62a7 0 665px,#3d61a6 0)"></i>
<i style="top:968px;height:19px;background:linear-gradient(90deg,#556e9f 0 19px,#546e9e 0 38px,#546e9d 0 76px,#556e9d 0 95px,#58709f 0 114px,#6c7eac 0 133px,#99a4c7 0 152px,#d3d3e3 0 171px,#e7e7eb 0 190px,#cfdae7 0 209px,#acc5dd 0 228px,#769fc7 0 247px,#5a89b8 0 266px,#4f7fb2 0 285px,#4878ae 0 304px,#4574ad 0 323px,#4472ac 0 342px,#4371ab 0 361px,#4270ab 0 380px,#426faa 0 399px,#416faa 0 418px,#416eaa 0 456px,#406daa 0 475px,#406ca9 0 494px,#406ba9 0 513px,#406aa9 0 532px,#3f68a9 0 551px,#3f67a8 0 570px,#3f66a8 0 589px,#3e65a8 0 608px,#3e64a7 0 627px,#3d63a7 0 646px,#3d62a7 0 665px,#3d61a6 0)"></i>
<i style="top:987px;height:19px;background:linear-gradient(90deg,#5872a1 0 19px,#5771a0 0 38px,#556f9d 0 57px,#546f9c 0 76px,#556f9c 0 95px,#5b729f 0 114px,#7988b3 0 133px,#a9b0d0 0 152px,#dddeeb 0 171px,#e2e7ed 0 190px,#bfd1e2 0 209px,#8eb1d0 0 228px,#6996c0 0 247px,#5686b6 0 266px,#4c7bb0 0 285px,#4675ad 0 304px,#4472ac 0 323px,#4270aa 0 342px,#416eaa 0 361px,#416da9 0 380px,#416ca9 0 399px,#406ca9 0 418px,#406ba9 0 475px,#406aa9 0 494px,#3f69a9 0 513px,#3f68a8 0 551px,#3f67a8 0 570px,#3f66a8 0 589px,#3e65a8 0 608px,#3e64a7 0 627px,#3d63a7 0 646px,#3d62a7 0 665px,#3d61a6 0)"></i>
<i style="top:1006px;height:19px;background:linear-gradient(90deg,#5a74a2 0 19px,#5973a1 0 38px,#56719d 0 57px,#56719c 0 95px,#5d749f 0 114px,#828eb6 0 133px,#b9bad7 0 152px,#dfdfec 0 171px,#dfe3ef 0 190px,#b6c9de 0 209px,#86acce 0 228px,#6593bf 0 247px,#5484b5 0 266px,#4b7bb0 0 285px,#4674ad 0 304px,#4371ab 0 323px,#426eaa 0 342px,#416ca9 0 361px,#406ba9 0 380px,#406ba8 0 399px,#406aa8 0 437px,#4069a8 0 475px,#3f69a8 0 494px,#3f68a8 0 532px,#3f67a8 0 551px,#3f66a8 0 589px,#3e65a8 0 608px,#3e64a7 0 627px,#3d63a7 0 646px,#3d62a7 0 665px,#3d61a6 0)"></i>
<i style="top:1025px;height:19px;background:linear-gradient(90deg,#5e75a3 0 19px,#5d74a2 0 38px,#59729e 0 57px,#58729d 0 76px,#58729c 0 95px,#6479a1 0 114px,#9da3c5 0 133px,#c5c3de 0 152px,#dfdbed 0 171px,#d3d7e9 0 190px,#aac1dc 0 209px,#80a7cc 0 228px,#6291be 0 247px,#5282b4 0 266px,#4b7aaf 0 285px,#4573ac 0 304px,#4370ab 0 323px,#426eaa 0 342px,#416ca9 0 361px,#406ba8 0 380px,#406aa8 0 399px,#4069a8 0 456px,#4068a8 0 475px,#3f68a8 0 513px,#3f67a8 0 551px,#3f66a8 0 589px,#3e65a8 0 608px,#3e64a7 0 627px,#3d63a7 0 646px,#3d62a7 0 665px,#3d61a6 0)"></i>
<i style="top:1044px;height:19px;background:linear-gradient(90deg,#6477a5 0 19px,#6076a2 0 38px,#5f75a1 0 57px,#5d759f 0 76px,#6077a0 0 95px,#7f8fb0 0 114px,#b4b2d1 0 133px,#d8cfe7 0 152px,#e3dfef 0 171px,#cbd2e6 0 190px,#a1bdd9 0 209px,#7ba4ca 0 228px,#5e8dbc 0 247px,#507fb3 0 266px,#4977ae 0 285px,#4572ac 0 304px,#436faa 0 323px,#426da9 0 342px,#416ba9 0 361px,#406aa8 0 399px,#4069a8 0 437px,#4068a8 0 475px,#3f68a8 0 494px,#3f67a8 0 551px,#3f66a8 0 589px,#3e65a8 0 608px,#3e64a7 0 627px,#3d63a7 0 646px,#3d62a7 0 665px,#3d61a6 0)"></i>
<i style="top:1063px;height:19px;background:linear-gradient(90deg,#6678a6 0 19px,#6678a5 0 38px,#6578a3 0 57px,#6b7ea6 0 76px,#8191b0 0 95px,#9fa8c1 0 114px,#d2cfe3 0 133px,#e7dfef 0 152px,#dfdfef 0 171px,#bac9e1 0 190px,#90b4d4 0 209px,#6997c2 0 228px,#5686b7 0 247px,#4b7ab0 0 266px,#4573ac 0 285px,#4470ab 0 304px,#436eaa 0 323px,#426da9 0 342px,#416ca8 0 361px,#406aa8 0 399px,#4069a8 0 437px,#4068a8 0 456px,#3f68a8 0 494px,#3f67a8 0 551px,#3f66a8 0 589px,#3e65a8 0 608px,#3e64a7 0 627px,#3d63a7 0 646px,#3d62a7 0 665px,#3d61a6 0)"></i>
<i style="top:1082px;height:19px;background:linear-gradient(90deg,#697aa7 0 38px,#697ba6 0 57px,#7c8caf 0 76px,#9ea8c0 0 95px,#c2c6d6 0 114px,#ebe7f1 0 133px,#efebf7 0 152px,#d7dfef 0 171px,#a9c4e0 0 190px,#8ab0d3 0 209px,#6291bf 0 228px,#4f7eb2 0 247px,#4876ae 0 266px,#4472ab 0 285px,#4370aa 0 304px,#426ea9 0 323px,#416da9 0 342px,#416ca8 0 361px,#406ba8 0 380px,#406aa8 0 399px,#4069a8 0 418px,#3f69a7 0 437px,#3f68a8 0 494px,#3f67a8 0 532px,#3f66a8 0 570px,#3f65a8 0 589px,#3e65a7 0 608px,#3e64a7 0 627px,#3d63a7 0 646px,#3d62a6 0 665px,#3c61a6 0)"></i>
<i style="top:1101px;height:19px;background:linear-gradient(90deg,#6a7ba8 0 19px,#6b7ca8 0 38px,#6d7ea9 0 57px,#8997b7 0 76px,#c6cad6 0 95px,#e3e3e7 0 114px,#f9f7fb 0 133px,#efebf9 0 152px,#cbd6ea 0 171px,#96b8d8 0 190px,#78a4cc 0 209px,#5a8aba 0 228px,#4a7ab0 0 247px,#4473ac 0 266px,#4371ab 0 285px,#426faa 0 304px,#416ea9 0 323px,#416da9 0 342px,#406ca8 0 361px,#406ba8 0 380px,#406aa7 0 399px,#3f69a7 0 437px,#3f68a7 0 475px,#3f67a7 0 513px,#3e66a7 0 570px,#3e65a7 0 589px,#3e64a7 0 608px,#3d63a7 0 627px,#3d62a6 0 646px,#3c62a6 0 665px,#3c61a6 0)"></i>
<i style="top:1120px;height:19px;background:linear-gradient(90deg,#697da9 0 19px,#6b7eaa 0 38px,#7384ae 0 57px,#99a4c0 0 76px,#d3d6df 0 95px,#f3f3f3 0 114px,#fffbff 0 133px,#ebebf9 0 152px,#b9cde6 0 171px,#8ab0d4 0 190px,#6b9ac6 0 209px,#5585b7 0 228px,#4878af 0 247px,#4473ac 0 266px,#4271ab 0 285px,#4270aa 0 304px,#416fa9 0 323px,#416ea9 0 342px,#406da9 0 361px,#406ca8 0 380px,#3f6ba8 0 399px,#3f6aa7 0 418px,#3f69a7 0 437px,#3e68a7 0 456px,#3e67a7 0 475px,#3e66a7 0 494px,#3e66a6 0 513px,#3d65a6 0 570px,#3d64a6 0 608px,#3c63a6 0 627px,#3c62a6 0 665px,#3c61a5 0)"></i>
<i style="top:1139px;height:19px;background:linear-gradient(90deg,#617ca8 0 19px,#677eaa 0 38px,#7788b2 0 57px,#a1aac7 0 76px,#e7e7ef 0 95px,#fff 0 133px,#dfebf9 0 152px,#a9c9e4 0 171px,#81abd3 0 190px,#5e8ebe 0 209px,#4a7bb1 0 228px,#4575ad 0 247px,#4373ac 0 266px,#4272ab 0 285px,#4171ab 0 304px,#4170aa 0 323px,#416faa 0 342px,#406fa9 0 361px,#406ea9 0 380px,#406da9 0 399px,#3f6ca8 0 418px,#3e6aa7 0 437px,#3e68a7 0 456px,#3d67a6 0 475px,#3d66a6 0 494px,#3c64a5 0 551px,#3c63a5 0 589px,#3b63a5 0 627px,#3b62a5 0)"></i>
<i style="top:1158px;height:19px;background:linear-gradient(90deg,#5e7ba7 0 19px,#647eaa 0 38px,#7689b3 0 57px,#a1a9c7 0 76px,#e7e7ef 0 95px,#fff 0 133px,#dfebf9 0 152px,#a8c8e5 0 171px,#7fabd3 0 190px,#5d8dbe 0 209px,#4a7bb1 0 228px,#4475ad 0 247px,#4374ac 0 266px,#4273ab 0 285px,#4172ab 0 304px,#4171ab 0 323px,#4171aa 0 342px,#4070aa 0 361px,#406faa 0 380px,#406ea9 0 399px,#3f6da9 0 418px,#3e6ba8 0 437px,#3d69a7 0 456px,#3c67a6 0 475px,#3c65a5 0 494px,#3b64a5 0 513px,#3b63a5 0 570px,#3b62a5 0 608px,#3b62a4 0 627px,#3a62a4 0)"></i>
<i style="top:1177px;height:19px;background:linear-gradient(90deg,#5c7ba7 0 19px,#607da8 0 38px,#7186b1 0 57px,#9ea6c7 0 76px,#cecbe2 0 95px,#efebf5 0 114px,#edf1fb 0 133px,#cbe3f5 0 152px,#9ac1e0 0 171px,#76a5d0 0 190px,#5586b9 0 209px,#497ab1 0 228px,#4476ad 0 247px,#4374ac 0 266px,#4273ac 0 285px,#4172ab 0 323px,#4171ab 0 342px,#4071aa 0 361px,#4070aa 0 380px,#406fa9 0 399px,#3f6da9 0 418px,#3e6ba8 0 437px,#3d69a7 0 456px,#3c67a6 0 475px,#3b65a5 0 494px,#3b63a5 0 513px,#3a63a4 0 532px,#3a62a4 0)"></i>
<i style="top:1196px;height:19px;background:linear-gradient(90deg,#5c7ba6 0 19px,#5f7ca8 0 38px,#7086b1 0 57px,#9da5c8 0 76px,#cecae2 0 95px,#efebf5 0 114px,#edf1fb 0 133px,#cbe3f5 0 152px,#99c1e0 0 171px,#75a4d0 0 190px,#5585b9 0 209px,#497ab1 0 228px,#4476ad 0 247px,#4374ac 0 266px,#4273ac 0 285px,#4172ab 0 323px,#4171ab 0 342px,#4071aa 0 361px,#4070aa 0 380px,#406faa 0 399px,#3f6da9 0 418px,#3e6ba8 0 437px,#3d69a7 0 456px,#3c67a6 0 475px,#3b65a5 0 494px,#3b63a5 0 513px,#3a62a4 0)"></i>
<svg class="sl" width="684" height="1215" viewBox="0 0 684 1215"><circle cx="276.5" cy="9.4" r="1.45"/><circle cx="278.2" cy="28.3" r="1.45"/><circle cx="282.3" cy="47.4" r="1.45"/><circle cx="286.3" cy="66.3" r="1.45"/><circle cx="289.5" cy="85.4" r="1.45"/><circle cx="293.9" cy="104.6" r="1.45"/><circle cx="294.3" cy="106.2" r="1.45"/><circle cx="300.5" cy="123.4" r="1.45"/><circle cx="305.4" cy="142.5" r="1.45"/><circle cx="311.2" cy="161.4" r="1.45"/><circle cx="313.6" cy="166.3" r="1.45"/><circle cx="319.4" cy="180.5" r="1.45"/><circle cx="331.5" cy="199.0" r="1.45"/><circle cx="332.7" cy="201.1" r="1.45"/><circle cx="347.2" cy="218.5" r="1.45"/><circle cx="351.3" cy="223.4" r="1.45"/><circle cx="365.5" cy="237.3" r="1.45"/><circle cx="370.4" cy="243.4" r="1.45"/><circle cx="381.4" cy="256.2" r="1.45"/><circle cx="389.2" cy="265.2" r="1.45"/><circle cx="401.7" cy="275.3" r="1.45"/><circle cx="408.4" cy="289.2" r="1.45"/><circle cx="420.5" cy="294.3" r="1.45"/><circle cx="419.4" cy="313.0" r="1.45"/><circle cx="408.8" cy="332.5" r="1.45"/><circle cx="408.0" cy="333.3" r="1.45"/><circle cx="393.3" cy="351.4" r="1.45"/><circle cx="389.3" cy="356.3" r="1.45"/><circle cx="378.5" cy="370.3" r="1.45"/><circle cx="370.4" cy="383.3" r="1.45"/><circle cx="367.2" cy="389.4" r="1.45"/><circle cx="359.1" cy="408.2" r="1.45"/><circle cx="353.3" cy="427.4" r="1.45"/><circle cx="354.5" cy="446.5" r="1.45"/><circle cx="362.3" cy="465.4" r="1.45"/><circle cx="370.4" cy="477.2" r="1.45"/><circle cx="376.2" cy="484.5" r="1.45"/><circle cx="389.5" cy="501.6" r="1.45"/><circle cx="391.3" cy="503.3" r="1.45"/><circle cx="404.3" cy="522.5" r="1.45"/><circle cx="408.4" cy="528.3" r="1.45"/><circle cx="415.3" cy="541.3" r="1.45"/><circle cx="419.4" cy="560.2" r="1.45"/><circle cx="417.4" cy="579.3" r="1.45"/><circle cx="415.3" cy="598.4" r="1.45"/><circle cx="410.4" cy="617.0" r="1.45"/><circle cx="408.4" cy="622.4" r="1.45"/><circle cx="401.1" cy="636.3" r="1.45"/><circle cx="389.2" cy="648.4" r="1.45"/><circle cx="383.2" cy="655.4" r="1.45"/><circle cx="370.4" cy="671.6" r="1.45"/><circle cx="367.2" cy="674.5" r="1.45"/><circle cx="351.1" cy="692.4" r="1.45"/><circle cx="350.3" cy="693.2" r="1.45"/><circle cx="332.2" cy="711.5" r="1.45"/><circle cx="331.4" cy="712.3" r="1.45"/><circle cx="316.5" cy="731.4" r="1.45"/><circle cx="313.3" cy="737.5" r="1.45"/><circle cx="308.4" cy="750.5" r="1.45"/><circle cx="301.4" cy="769.4" r="1.45"/><circle cx="294.4" cy="787.9" r="1.45"/><circle cx="287.2" cy="807.3" r="1.45"/><circle cx="283.4" cy="826.5" r="1.45"/><circle cx="282.3" cy="845.3" r="1.45"/><circle cx="279.4" cy="864.2" r="1.45"/><circle cx="275.3" cy="880.1" r="1.45"/><circle cx="274.1" cy="883.6" r="1.45"/><circle cx="269.2" cy="902.4" r="1.45"/><circle cx="260.2" cy="921.0" r="1.45"/><circle cx="256.2" cy="926.4" r="1.45"/><circle cx="248.3" cy="940.6" r="1.45"/><circle cx="240.2" cy="959.4" r="1.45"/><circle cx="237.0" cy="965.2" r="1.45"/><circle cx="231.2" cy="978.3" r="1.45"/><circle cx="222.2" cy="997.4" r="1.45"/><circle cx="218.2" cy="1003.2" r="1.45"/><circle cx="212.1" cy="1016.2" r="1.45"/><circle cx="206.3" cy="1035.4" r="1.45"/><circle cx="201.4" cy="1054.5" r="1.45"/><circle cx="199.3" cy="1066.4" r="1.45"/><circle cx="198.2" cy="1073.4" r="1.45"/><circle cx="195.3" cy="1092.5" r="1.45"/><circle cx="191.2" cy="1111.3" r="1.45"/><circle cx="186.3" cy="1130.5" r="1.45"/><circle cx="180.2" cy="1143.2" r="1.45"/><circle cx="177.3" cy="1149.3" r="1.45"/><circle cx="168.3" cy="1168.2" r="1.45"/><circle cx="161.1" cy="1184.1" r="1.45"/><circle cx="160.2" cy="1187.3" r="1.45"/><circle cx="156.1" cy="1206.1" r="1.45"/></svg>
</div>
<div class="ax" id="ax2" style="left:873px">
<i style="top:0px;height:19px;background:linear-gradient(90deg,#536ba0 0 19px,#526b9f 0 38px,#516c9f 0 57px,#506c9f 0 76px,#506d9f 0 95px,#526e9f 0 114px,#5671a0 0 133px,#7b3072 0 152px,#853776 0 171px,#93417d 0 190px,#a34f87 0 209px,#ac578e 0 228px,#ba3949 0 266px,#552597 0)"></i>
<i style="top:19px;height:19px;background:linear-gradient(90deg,#546aa0 0 19px,#536b9f 0 38px,#516b9f 0 57px,#506c9f 0 76px,#506d9f 0 95px,#516e9f 0 114px,#772e71 0 133px,#7c3072 0 152px,#893a78 0 171px,#94427e 0 190px,#a44f88 0 209px,#ad578e 0 228px,#ba3949 0 266px,#552597 0)"></i>
<i style="top:38px;height:19px;background:linear-gradient(90deg,#5669a0 0 19px,#546a9f 0 38px,#516b9f 0 57px,#506c9f 0 95px,#516e9f 0 114px,#782e71 0 133px,#7f3374 0 152px,#8e3e7b 0 171px,#9c4983 0 190px,#a75189 0 209px,#ae588e 0 228px,#b15b91 0 247px,#ba3949 0 266px,#552597 0)"></i>
<i style="top:57px;height:19px;background:linear-gradient(90deg,#56699f 0 19px,#54699f 0 38px,#516a9f 0 57px,#506b9f 0 76px,#506c9f 0 95px,#762c71 0 114px,#782e72 0 133px,#803474 0 152px,#8e3f7b 0 171px,#9b4882 0 190px,#a75189 0 209px,#ae588e 0 228px,#b15b91 0 247px,#ba3949 0 266px,#552597 0)"></i>
<i style="top:76px;height:19px;background:linear-gradient(90deg,#56699f 0 19px,#54699f 0 38px,#516a9f 0 57px,#506b9f 0 76px,#506c9f 0 95px,#762c71 0 114px,#782e71 0 133px,#813575 0 152px,#90407c 0 171px,#994680 0 190px,#9a4781 0 209px,#a24e87 0 228px,#b15b90 0 247px,#ba3949 0 266px,#552597 0)"></i>
<i style="top:95px;height:19px;background:linear-gradient(90deg,#54699f 0 19px,#53699f 0 38px,#506a9e 0 57px,#506b9e 0 76px,#752c71 0 114px,#782e71 0 133px,#813575 0 152px,#90417c 0 171px,#984680 0 190px,#9a4781 0 209px,#a24e87 0 228px,#b15b90 0 247px,#ba3949 0 285px,#552597 0)"></i>
<i style="top:114px;height:19px;background:linear-gradient(90deg,#516a9e 0 19px,#506a9e 0 38px,#506b9e 0 57px,#752b70 0 76px,#752c70 0 95px,#762c71 0 114px,#772d71 0 133px,#7f3373 0 152px,#8b3d7a 0 171px,#94437e 0 190px,#974580 0 209px,#a24e87 0 228px,#b25b8f 0 247px,#ba3949 0 285px,#552597 0)"></i>
<i style="top:133px;height:19px;background:linear-gradient(90deg,#4f6b9e 0 57px,#752c70 0 95px,#752c71 0 114px,#772d71 0 133px,#7f3373 0 152px,#8b3c79 0 171px,#93427e 0 190px,#974580 0 209px,#a24e87 0 228px,#b25b8f 0 247px,#ba3949 0 285px,#552597 0)"></i>
<i style="top:152px;height:19px;background:linear-gradient(90deg,#4e6c9e 0 38px,#752c70 0 114px,#772d71 0 133px,#7d3172 0 152px,#863877 0 171px,#8e3e7c 0 190px,#954480 0 209px,#a04c86 0 228px,#ae5a8e 0 247px,#ba3949 0 304px,#552597 0)"></i>
<i style="top:171px;height:19px;background:linear-gradient(90deg,#4e6c9e 0 38px,#742c70 0 57px,#752c70 0 95px,#752d70 0 114px,#772d71 0 133px,#7b3072 0 152px,#833676 0 171px,#893a79 0 190px,#8e3e7c 0 209px,#9a4882 0 228px,#a8548b 0 247px,#ae5a8f 0 266px,#af5b91 0 285px,#ba3949 0 304px,#552597 0)"></i>
<i style="top:190px;height:19px;background:linear-gradient(90deg,#4e6d9d 0 19px,#742c70 0 76px,#752c70 0 95px,#752d70 0 114px,#762d70 0 133px,#7e3374 0 152px,#843776 0 171px,#883a79 0 190px,#8c3d7b 0 209px,#95447f 0 228px,#9f4c85 0 247px,#a65289 0 266px,#ad588e 0 285px,#ab588f 0 304px,#552597 0)"></i>
<i style="top:209px;height:19px;background:linear-gradient(90deg,#4d6d9d 0 19px,#742c70 0 95px,#752d70 0 114px,#762d70 0 133px,#792f72 0 152px,#7f3374 0 171px,#833676 0 190px,#863877 0 209px,#8b3b7a 0 228px,#95447f 0 247px,#9c4a84 0 266px,#a6528a 0 285px,#a9558d 0 304px,#a3548e 0 323px,#552597 0)"></i>
<i style="top:228px;height:19px;background:linear-gradient(90deg,#742c70 0 95px,#752d70 0 133px,#772e71 0 152px,#7b3173 0 171px,#7f3474 0 190px,#823576 0 209px,#853777 0 228px,#8c3c7b 0 247px,#964480 0 266px,#a14d88 0 285px,#a6528c 0 304px,#a8558e 0 323px,#a4548d 0 342px,#552597 0)"></i>
<i style="top:247px;height:19px;background:linear-gradient(90deg,#742c70 0 76px,#742d70 0 95px,#752d70 0 133px,#762e71 0 152px,#793072 0 171px,#7d3274 0 190px,#7f3375 0 209px,#823576 0 228px,#893a7a 0 247px,#93417f 0 266px,#9c4885 0 285px,#a34f8b 0 304px,#a9568f 0 323px,#a9588f 0 342px,#9e4f8a 0 361px,#552597 0)"></i>
<i style="top:266px;height:19px;background:linear-gradient(90deg,#742d70 0 76px,#752d70 0 133px,#762e71 0 152px,#772e71 0 171px,#782f72 0 190px,#7c3174 0 209px,#803375 0 228px,#863778 0 247px,#8d3c7c 0 266px,#934180 0 285px,#9a4784 0 304px,#a4518a 0 323px,#a9568d 0 342px,#a7558d 0 361px,#9f4e89 0 380px,#552597 0)"></i>
<i style="top:285px;height:19px;background:linear-gradient(90deg,#742d70 0 57px,#752d70 0 133px,#752e71 0 152px,#762e71 0 171px,#772f72 0 190px,#7b3073 0 209px,#7f3375 0 228px,#853677 0 247px,#8c3b7b 0 266px,#903f7e 0 285px,#954281 0 304px,#a14e88 0 323px,#a6538b 0 361px,#9d4c88 0 380px,#552597 0)"></i>
<i style="top:304px;height:19px;background:linear-gradient(90deg,#752d70 0 133px,#752d71 0 152px,#762e71 0 171px,#792f72 0 190px,#7e3274 0 209px,#7f3374 0 228px,#813375 0 247px,#853677 0 266px,#8c3b7c 0 285px,#944381 0 304px,#9d4a85 0 323px,#a14e87 0 342px,#a04e87 0 361px,#9b4a87 0 380px,#8d4282 0 399px,#552597 0)"></i>
<i style="top:323px;height:19px;background:linear-gradient(90deg,#752d70 0 152px,#762e71 0 171px,#792f72 0 190px,#7d3174 0 209px,#7f3274 0 228px,#813375 0 266px,#853677 0 285px,#8d3d7c 0 304px,#934280 0 323px,#974683 0 342px,#984884 0 361px,#954784 0 380px,#552597 0)"></i>
<i style="top:342px;height:19px;background:linear-gradient(90deg,#752d70 0 152px,#762d71 0 171px,#782e71 0 190px,#7b3073 0 209px,#7f3274 0 228px,#803274 0 247px,#803275 0 266px,#823476 0 285px,#893a7a 0 304px,#90417f 0 323px,#934482 0 342px,#944684 0 361px,#552597 0)"></i>
<i style="top:361px;height:19px;background:linear-gradient(90deg,#752c70 0 95px,#742c70 0 133px,#752c70 0 152px,#752d70 0 171px,#772e71 0 190px,#7a2f72 0 209px,#7e3174 0 228px,#7f3174 0 247px,#7f3274 0 266px,#813375 0 285px,#88397a 0 304px,#90417f 0 323px,#934582 0 342px,#934784 0 361px,#552597 0)"></i>
<i style="top:380px;height:19px;background:linear-gradient(90deg,#752c70 0 76px,#742c70 0 95px,#742b70 0 152px,#752c70 0 171px,#772d71 0 190px,#782e71 0 209px,#7a2f72 0 228px,#7b3073 0 266px,#7d3174 0 285px,#863879 0 304px,#914281 0 323px,#954785 0 342px,#552597 0)"></i>
<i style="top:399px;height:19px;background:linear-gradient(90deg,#752c70 0 57px,#742c70 0 76px,#742b70 0 114px,#732b70 0 133px,#742b70 0 171px,#762d71 0 190px,#772d71 0 209px,#782e72 0 228px,#792f72 0 247px,#7a2f72 0 266px,#7b3073 0 285px,#853879 0 304px,#914281 0 323px,#954885 0 342px,#552597 0)"></i>
<i style="top:418px;height:19px;background:linear-gradient(90deg,#752c71 0 19px,#752c70 0 57px,#742b70 0 95px,#732a70 0 152px,#742b70 0 171px,#752c70 0 209px,#762d71 0 247px,#772d71 0 266px,#782e71 0 285px,#833678 0 304px,#8f4180 0 323px,#954785 0 342px,#552597 0)"></i>
<i style="top:437px;height:19px;background:linear-gradient(90deg,#752d71 0 19px,#752c70 0 38px,#742c70 0 57px,#742b70 0 114px,#732b70 0 133px,#742b70 0 171px,#752c70 0 209px,#752d70 0 228px,#762d70 0 247px,#762d71 0 266px,#772e71 0 285px,#7e3376 0 304px,#893d7d 0 323px,#8f4483 0 342px,#552597 0)"></i>
<i style="top:456px;height:19px;background:linear-gradient(90deg,#752e71 0 19px,#752d71 0 38px,#742c70 0 76px,#742b70 0 114px,#742c70 0 171px,#752c70 0 190px,#752d70 0 247px,#762d70 0 266px,#772e71 0 285px,#7d3375 0 304px,#83397a 0 323px,#843b7c 0 342px,#552597 0)"></i>
<i style="top:475px;height:19px;background:linear-gradient(90deg,#752e71 0 19px,#752d71 0 38px,#752d70 0 57px,#752c70 0 133px,#752d70 0 266px,#762e71 0 285px,#782f72 0 304px,#7b3275 0 323px,#7c3376 0 342px,#7c3477 0 361px,#552597 0)"></i>
<i style="top:494px;height:19px;background:linear-gradient(90deg,#752e71 0 19px,#752e70 0 38px,#752d70 0 247px,#762e70 0 266px,#762e71 0 285px,#772e71 0 304px,#782f72 0 323px,#793073 0 342px,#7a3275 0 361px,#7b3477 0 380px,#552597 0)"></i>
<i style="top:513px;height:19px;background:linear-gradient(90deg,#762e71 0 19px,#762e70 0 57px,#762d70 0 95px,#762e70 0 133px,#752e70 0 228px,#762e70 0 266px,#762e71 0 285px,#772f71 0 304px,#782f72 0 323px,#793073 0 342px,#7a3174 0 361px,#7b3376 0 380px,#7b3477 0 399px,#552597 0)"></i>
<i style="top:532px;height:19px;background:linear-gradient(90deg,#772e71 0 57px,#762e70 0 266px,#772f71 0 285px,#782f72 0 304px,#783072 0 323px,#793073 0 342px,#7b3274 0 361px,#7b3275 0 380px,#7c3276 0 399px,#552597 0)"></i>
<i style="top:551px;height:19px;background:linear-gradient(90deg,#772e71 0 95px,#772e70 0 114px,#772f70 0 171px,#762f70 0 247px,#772f70 0 266px,#772f71 0 285px,#783072 0 304px,#793073 0 323px,#7a3173 0 342px,#7c3275 0 380px,#7c3276 0 399px,#552597 0)"></i>
<i style="top:570px;height:19px;background:linear-gradient(90deg,#782f71 0 152px,#772f71 0 190px,#772f70 0 228px,#772f71 0 266px,#783071 0 285px,#7a3172 0 304px,#7e3375 0 323px,#813476 0 342px,#823577 0 361px,#823578 0 380px,#803477 0 399px,#552597 0)"></i>
<i style="top:589px;height:19px;background:linear-gradient(90deg,#793071 0 76px,#783071 0 266px,#793071 0 285px,#7b3273 0 304px,#7f3475 0 323px,#823577 0 342px,#833678 0 380px,#813478 0 399px,#552597 0)"></i>
<i style="top:608px;height:18px;background:linear-gradient(90deg,#793072 0 38px,#783072 0 133px,#783071 0 209px,#793172 0 228px,#7b3273 0 247px,#7c3273 0 266px,#7c3373 0 285px,#7d3374 0 304px,#883a7a 0 323px,#8b3c7b 0 342px,#8a3b7b 0 361px,#87397a 0 380px,#803478 0 399px,#552597 0)"></i>
<i style="top:626px;height:19px;background:linear-gradient(90deg,#783072 0 152px,#783071 0 171px,#783072 0 209px,#793172 0 228px,#7c3373 0 247px,#7f3575 0 266px,#853978 0 285px,#893b7a 0 304px,#8d3e7c 0 323px,#8d3d7c 0 342px,#8b3c7c 0 361px,#85387a 0 380px,#552597 0)"></i>
<i style="top:645px;height:19px;background:linear-gradient(90deg,#782f71 0 57px,#772f71 0 171px,#782f71 0 209px,#793072 0 228px,#813676 0 247px,#883b79 0 266px,#8c3e7c 0 285px,#91427f 0 304px,#974783 0 323px,#974784 0 342px,#8c3e7e 0 361px,#552597 0)"></i>
<i style="top:664px;height:19px;background:linear-gradient(90deg,#772e71 0 190px,#782f71 0 209px,#7a3072 0 228px,#863978 0 247px,#91427e 0 266px,#954682 0 285px,#994984 0 304px,#984885 0 323px,#914282 0 342px,#552597 0)"></i>
<i style="top:683px;height:19px;background:linear-gradient(90deg,#772e71 0 171px,#782e71 0 209px,#7b3072 0 228px,#893b79 0 247px,#954481 0 266px,#9a4985 0 285px,#9c4b86 0 304px,#934583 0 323px,#552597 0)"></i>
<i style="top:702px;height:19px;background:linear-gradient(90deg,#772e71 0 171px,#782e71 0 190px,#792e71 0 209px,#7c3073 0 228px,#8a3a7a 0 247px,#944481 0 266px,#9a4985 0 285px,#9c4b86 0 304px,#552597 0)"></i>
<i style="top:721px;height:19px;background:linear-gradient(90deg,#772e71 0 152px,#782e71 0 171px,#782f71 0 190px,#7a2f72 0 209px,#7f3274 0 228px,#8b3b7b 0 247px,#924280 0 266px,#954583 0 285px,#8d4181 0 304px,#552597 0)"></i>
<i style="top:740px;height:19px;background:linear-gradient(90deg,#782f71 0 171px,#792f71 0 190px,#7b3072 0 209px,#813376 0 228px,#8b3b7b 0 247px,#8f407f 0 266px,#8d4080 0 285px,#552597 0)"></i>
<i style="top:759px;height:19px;background:linear-gradient(90deg,#782f71 0 76px,#783071 0 133px,#782f71 0 152px,#793071 0 171px,#7a3072 0 190px,#7e3274 0 209px,#883879 0 228px,#90407f 0 247px,#934482 0 266px,#924583 0 285px,#552597 0)"></i>
<i style="top:778px;height:19px;background:linear-gradient(90deg,#783071 0 57px,#793071 0 152px,#793072 0 171px,#7b3072 0 190px,#823476 0 209px,#8c3c7c 0 228px,#924281 0 247px,#944584 0 266px,#904383 0 285px,#552597 0)"></i>
<i style="top:797px;height:19px;background:linear-gradient(90deg,#793071 0 76px,#7a3171 0 133px,#7a3072 0 171px,#7f3274 0 190px,#893a7a 0 209px,#8f3f7f 0 228px,#944483 0 247px,#954684 0 266px,#552597 0)"></i>
<i style="top:816px;height:19px;background:linear-gradient(90deg,#793071 0 57px,#7a3071 0 76px,#7a3171 0 114px,#7a3172 0 133px,#7a3072 0 152px,#7b3073 0 171px,#803476 0 190px,#8d3e7d 0 209px,#934381 0 228px,#974785 0 247px,#964785 0 266px,#552597 0)"></i>
<i style="top:835px;height:19px;background:linear-gradient(90deg,#7a3072 0 114px,#7b3072 0 133px,#7b3073 0 152px,#7e3174 0 171px,#893a7a 0 190px,#944481 0 209px,#9c4a87 0 228px,#9e4c89 0 247px,#994987 0 266px,#552597 0)"></i>
<i style="top:854px;height:19px;background:linear-gradient(90deg,#7a3072 0 76px,#7a2f72 0 114px,#7a2e73 0 133px,#7b2f73 0 152px,#7f3276 0 171px,#8c3b7c 0 190px,#9d4a87 0 209px,#a5518b 0 228px,#a24e8b 0 247px,#994987 0 266px,#552597 0)"></i>
<i style="top:873px;height:19px;background:linear-gradient(90deg,#792f72 0 57px,#792e72 0 95px,#792d72 0 133px,#7b2e73 0 152px,#88387a 0 171px,#994583 0 190px,#a7528b 0 209px,#ac568e 0 228px,#a24f8b 0 247px,#964887 0 266px,#552597 0)"></i>
<i style="top:892px;height:19px;background:linear-gradient(90deg,#792e71 0 38px,#782e71 0 57px,#782e72 0 76px,#782d72 0 114px,#792d72 0 133px,#7a2e73 0 152px,#8c3b7c 0 171px,#9c4885 0 190px,#a9548d 0 209px,#ad578f 0 228px,#9f4e8a 0 247px,#552597 0)"></i>
<i style="top:911px;height:19px;background:linear-gradient(90deg,#772d71 0 57px,#772c71 0 95px,#782c71 0 114px,#792d72 0 133px,#7c2f74 0 152px,#8e3d7d 0 171px,#9f4b86 0 190px,#ac578e 0 209px,#ad578f 0 228px,#552597 0 665px,#005bff 0)"></i>
<i style="top:930px;height:19px;background:linear-gradient(90deg,#772c70 0 76px,#772c71 0 114px,#792d72 0 133px,#833577 0 152px,#954381 0 171px,#a65189 0 190px,#ae598e 0 209px,#a8578e 0 228px,#552597 0 646px,#005bff 0)"></i>
<i style="top:949px;height:19px;background:linear-gradient(90deg,#772c70 0 95px,#782d71 0 114px,#7b2f73 0 133px,#8c3d7d 0 152px,#a34f88 0 171px,#ae598e 0 190px,#ba3949 0 209px,#a2548c 0 228px,#552597 0 646px,#005bff 0)"></i>
<i style="top:968px;height:19px;background:linear-gradient(90deg,#772d71 0 19px,#772d70 0 38px,#772c70 0 76px,#772d70 0 95px,#792d71 0 114px,#803376 0 133px,#924281 0 152px,#a9558c 0 171px,#ba3949 0 209px,#552597 0 646px,#005bff 0)"></i>
<i style="top:987px;height:19px;background:linear-gradient(90deg,#782e72 0 19px,#782e71 0 38px,#772d70 0 95px,#792e71 0 114px,#863779 0 133px,#994784 0 152px,#ae598f 0 171px,#ba3949 0 209px,#552597 0 627px,#005bff 0)"></i>
<i style="top:1006px;height:19px;background:linear-gradient(90deg,#792f72 0 19px,#792f71 0 38px,#782e70 0 57px,#772e70 0 76px,#782e70 0 95px,#7a2f71 0 114px,#893a7a 0 133px,#9f4b87 0 152px,#ae5a90 0 171px,#ba3949 0 190px,#552597 0 627px,#005bff 0)"></i>
<i style="top:1025px;height:19px;background:linear-gradient(90deg,#7b2f73 0 19px,#7a2f72 0 38px,#792e70 0 57px,#782e70 0 95px,#7d3172 0 114px,#944280 0 133px,#a44e8a 0 152px,#ae5890 0 171px,#ba3949 0 190px,#552597 0 627px,#005bff 0)"></i>
<i style="top:1044px;height:19px;background:linear-gradient(90deg,#7d3073 0 19px,#7c3072 0 38px,#7b3072 0 57px,#7a2f71 0 76px,#7c3071 0 95px,#883a78 0 114px,#9d4885 0 133px,#ac538d 0 152px,#b05a91 0 171px,#ba3949 0 190px,#552597 0 627px,#005bff 0)"></i>
<i style="top:1063px;height:19px;background:linear-gradient(90deg,#7e3173 0 38px,#7d3173 0 57px,#803374 0 76px,#893b78 0 95px,#95447e 0 114px,#a9538c 0 133px,#b25a91 0 152px,#ae5a91 0 171px,#ba3949 0 190px,#552597 0 627px,#005bff 0)"></i>
<i style="top:1082px;height:19px;background:linear-gradient(90deg,#7f3174 0 19px,#7f3274 0 57px,#873977 0 76px,#94447e 0 95px,#a35087 0 114px,#b35d92 0 133px,#b55f94 0 152px,#ab5a91 0 171px,#552597 0 608px,#005bff 0)"></i>
<i style="top:1101px;height:19px;background:linear-gradient(90deg,#803275 0 38px,#813375 0 57px,#8c3d7a 0 76px,#a45187 0 95px,#b05b8e 0 114px,#b96396 0 133px,#ba3949 0 152px,#a6568f 0 171px,#552597 0 608px,#005bff 0)"></i>
<i style="top:1120px;height:19px;background:linear-gradient(90deg,#7f3275 0 19px,#803375 0 38px,#833577 0 57px,#92427e 0 76px,#a9568a 0 95px,#b66292 0 114px,#ba3949 0 152px,#9f538d 0 171px,#552597 0 589px,#005bff 0)"></i>
<i style="top:1139px;height:19px;background:linear-gradient(90deg,#7c3274 0 19px,#7e3375 0 38px,#853778 0 57px,#964481 0 76px,#b25d91 0 95px,#ba3949 0 152px,#552597 0 589px,#005bff 0)"></i>
<i style="top:1158px;height:19px;background:linear-gradient(90deg,#7b3274 0 19px,#7d3375 0 38px,#843779 0 57px,#964481 0 76px,#b25d91 0 95px,#ba3949 0 152px,#552597 0 589px,#005bff 0)"></i>
<i style="top:1177px;height:19px;background:linear-gradient(90deg,#7a3274 0 19px,#7c3375 0 38px,#823678 0 57px,#944381 0 76px,#a8528c 0 95px,#ba3949 0 152px,#552597 0 570px,#005bff 0)"></i>
<i style="top:1196px;height:19px;background:linear-gradient(90deg,#7a3274 0 19px,#7b3274 0 38px,#823678 0 57px,#944381 0 76px,#a8528c 0 95px,#ba3949 0 133px,#552597 0 570px,#005bff 0)"></i>
<svg class="sl" width="684" height="1215" viewBox="0 0 684 1215"><circle cx="276.5" cy="9.4" r="1.45"/><circle cx="278.2" cy="28.3" r="1.45"/><circle cx="282.3" cy="47.4" r="1.45"/><circle cx="286.3" cy="66.3" r="1.45"/><circle cx="289.5" cy="85.4" r="1.45"/><circle cx="293.9" cy="104.6" r="1.45"/><circle cx="294.3" cy="106.2" r="1.45"/><circle cx="300.5" cy="123.4" r="1.45"/><circle cx="305.4" cy="142.5" r="1.45"/><circle cx="311.2" cy="161.4" r="1.45"/><circle cx="313.6" cy="166.3" r="1.45"/><circle cx="319.4" cy="180.5" r="1.45"/><circle cx="331.5" cy="199.0" r="1.45"/><circle cx="332.7" cy="201.1" r="1.45"/><circle cx="347.2" cy="218.5" r="1.45"/><circle cx="351.3" cy="223.4" r="1.45"/><circle cx="365.5" cy="237.3" r="1.45"/><circle cx="370.4" cy="243.4" r="1.45"/><circle cx="381.4" cy="256.2" r="1.45"/><circle cx="389.2" cy="265.2" r="1.45"/><circle cx="401.7" cy="275.3" r="1.45"/><circle cx="408.4" cy="289.2" r="1.45"/><circle cx="420.5" cy="294.3" r="1.45"/><circle cx="419.4" cy="313.0" r="1.45"/><circle cx="408.8" cy="332.5" r="1.45"/><circle cx="408.0" cy="333.3" r="1.45"/><circle cx="393.3" cy="351.4" r="1.45"/><circle cx="389.3" cy="356.3" r="1.45"/><circle cx="378.5" cy="370.3" r="1.45"/><circle cx="370.4" cy="383.3" r="1.45"/><circle cx="367.2" cy="389.4" r="1.45"/><circle cx="359.1" cy="408.2" r="1.45"/><circle cx="353.3" cy="427.4" r="1.45"/><circle cx="354.5" cy="446.5" r="1.45"/><circle cx="362.3" cy="465.4" r="1.45"/><circle cx="370.4" cy="477.2" r="1.45"/><circle cx="376.2" cy="484.5" r="1.45"/><circle cx="389.5" cy="501.6" r="1.45"/><circle cx="391.3" cy="503.3" r="1.45"/><circle cx="404.3" cy="522.5" r="1.45"/><circle cx="408.4" cy="528.3" r="1.45"/><circle cx="415.3" cy="541.3" r="1.45"/><circle cx="419.4" cy="560.2" r="1.45"/><circle cx="417.4" cy="579.3" r="1.45"/><circle cx="415.3" cy="598.4" r="1.45"/><circle cx="410.4" cy="617.0" r="1.45"/><circle cx="408.4" cy="622.4" r="1.45"/><circle cx="401.1" cy="636.3" r="1.45"/><circle cx="389.2" cy="648.4" r="1.45"/><circle cx="383.2" cy="655.4" r="1.45"/><circle cx="370.4" cy="671.6" r="1.45"/><circle cx="367.2" cy="674.5" r="1.45"/><circle cx="351.1" cy="692.4" r="1.45"/><circle cx="350.3" cy="693.2" r="1.45"/><circle cx="332.2" cy="711.5" r="1.45"/><circle cx="331.4" cy="712.3" r="1.45"/><circle cx="316.5" cy="731.4" r="1.45"/><circle cx="313.3" cy="737.5" r="1.45"/><circle cx="308.4" cy="750.5" r="1.45"/><circle cx="301.4" cy="769.4" r="1.45"/><circle cx="294.4" cy="787.9" r="1.45"/><circle cx="287.2" cy="807.3" r="1.45"/><circle cx="283.4" cy="826.5" r="1.45"/><circle cx="282.3" cy="845.3" r="1.45"/><circle cx="279.4" cy="864.2" r="1.45"/><circle cx="275.3" cy="880.1" r="1.45"/><circle cx="274.1" cy="883.6" r="1.45"/><circle cx="269.2" cy="902.4" r="1.45"/><circle cx="260.2" cy="921.0" r="1.45"/><circle cx="256.2" cy="926.4" r="1.45"/><circle cx="248.3" cy="940.6" r="1.45"/><circle cx="240.2" cy="959.4" r="1.45"/><circle cx="237.0" cy="965.2" r="1.45"/><circle cx="231.2" cy="978.3" r="1.45"/><circle cx="222.2" cy="997.4" r="1.45"/><circle cx="218.2" cy="1003.2" r="1.45"/><circle cx="212.1" cy="1016.2" r="1.45"/><circle cx="206.3" cy="1035.4" r="1.45"/><circle cx="201.4" cy="1054.5" r="1.45"/><circle cx="199.3" cy="1066.4" r="1.45"/><circle cx="198.2" cy="1073.4" r="1.45"/><circle cx="195.3" cy="1092.5" r="1.45"/><circle cx="191.2" cy="1111.3" r="1.45"/><circle cx="186.3" cy="1130.5" r="1.45"/><circle cx="180.2" cy="1143.2" r="1.45"/><circle cx="177.3" cy="1149.3" r="1.45"/><circle cx="168.3" cy="1168.2" r="1.45"/><circle cx="161.1" cy="1184.1" r="1.45"/><circle cx="160.2" cy="1187.3" r="1.45"/><circle cx="156.1" cy="1206.1" r="1.45"/></svg>
</div>
<div id="legend">
<div class="sw" style="top:8.0px;background:#fd8d3c"></div>
<span style="top:3.8px">sand</span>
<div class="sw" style="top:38.4px;background:#ccffff"></div>
<span style="top:34.2px">whitewater</span>
<div class="sw" style="top:68.8px;background:#005bff"></div>
<span style="top:64.6px">water</span>
<div class="ln" style="top:105.2px"></div>
<span style="top:95.0px">shoreline</span>
<div class="sw" style="top:129.6px;background:#993333;border:1.4px solid #871212;box-sizing:border-box"></div>
<span style="top:125.4px">reference</span>
</div>
<div class="ax" id="ax3" style="left:1730px">
<i style="top:0px;height:19px;background:linear-gradient(90deg,#ff4242 0 19px,#ff4646 0 38px,#ff5353 0 57px,#ff5757 0 76px,#ff5858 0 95px,#ff5656 0 114px,#ff5252 0 133px,#bb1b4c 0 152px,#bb1141 0 171px,#bb0939 0 190px,#bb0838 0 209px,#bb0738 0 228px,#bb1b4b 0 247px,#bb3566 0 266px,#ba6597 0 285px,#903b97 0 304px,#7c2897 0 323px,#772297 0 342px,#742097 0 361px,#731f97 0 380px,#731e97 0 399px,#711c97 0 418px,#6c1897 0 437px,#6a1697 0 456px,#6a1597 0 475px,#691597 0 532px,#691497 0 551px,#681397 0 570px,#661297 0 589px,#661197 0 608px,#651097 0)"></i>
<i style="top:19px;height:19px;background:linear-gradient(90deg,#ff4141 0 19px,#f44 0 38px,#ff5151 0 57px,#ff5454 0 76px,#f55 0 95px,#ff5454 0 114px,#bb2051 0 133px,#bb1b4b 0 152px,#bb1142 0 171px,#bb0939 0 190px,#bb0838 0 209px,#bb0738 0 228px,#bb1a4b 0 247px,#bb3565 0 266px,#bb6697 0 285px,#903b97 0 304px,#7d2897 0 323px,#762297 0 342px,#742097 0 361px,#731f97 0 380px,#721e97 0 399px,#711c97 0 418px,#6c1897 0 437px,#6a1697 0 456px,#6a1597 0 475px,#691597 0 513px,#691497 0 532px,#681497 0 551px,#681397 0 570px,#671297 0 589px,#661197 0 608px,#651197 0 646px,#651097 0)"></i>
<i style="top:38px;height:19px;background:linear-gradient(90deg,#ff3e3e 0 19px,#ff4141 0 38px,#ff4b4b 0 57px,#ff4e4e 0 76px,#ff4d4d 0 95px,#ff4c4c 0 114px,#bb1d4e 0 133px,#bb1a4a 0 152px,#bb1142 0 171px,#bb0939 0 190px,#bb0838 0 209px,#bb0738 0 228px,#bb0d3e 0 247px,#bb2757 0 266px,#bb5e8f 0 285px,#9e4997 0 304px,#812c97 0 323px,#762297 0 342px,#742097 0 361px,#731e97 0 380px,#721d97 0 399px,#701c97 0 418px,#6d1897 0 437px,#6b1697 0 456px,#6a1697 0 475px,#6a1597 0 494px,#691597 0 513px,#691497 0 532px,#681497 0 551px,#681397 0 570px,#671297 0 589px,#661297 0 608px,#661197 0 646px,#651197 0)"></i>
<i style="top:57px;height:19px;background:linear-gradient(90deg,#ff3a3a 0 19px,#ff3d3d 0 38px,#ff4545 0 57px,#ff4848 0 95px,#bb1d4e 0 114px,#bb1c4d 0 133px,#bb1a4a 0 152px,#bb1242 0 171px,#bb0839 0 190px,#bb0838 0 228px,#bb0c3d 0 247px,#bb2656 0 266px,#bb5e8e 0 285px,#9e4997 0 304px,#822d97 0 323px,#752197 0 342px,#741f97 0 361px,#721e97 0 380px,#721d97 0 399px,#701c97 0 418px,#6e1997 0 437px,#6c1897 0 456px,#6c1797 0 475px,#6b1697 0 494px,#6a1597 0 513px,#691497 0 532px,#681397 0 551px,#671397 0 570px,#671297 0 589px,#661297 0 627px,#661197 0)"></i>
<i style="top:76px;height:19px;background:linear-gradient(90deg,#ff3636 0 19px,#ff3737 0 38px,#ff3a3a 0 57px,#ff3d3d 0 76px,#ff4242 0 95px,#bb1c4d 0 133px,#bb1a4b 0 152px,#bb1747 0 171px,#bb0939 0 190px,#bb0838 0 228px,#bb0738 0 247px,#bb2051 0 266px,#bb3d6e 0 285px,#ba6697 0 304px,#8c3897 0 323px,#762197 0 342px,#742097 0 361px,#721e97 0 380px,#711d97 0 399px,#711c97 0 418px,#701b97 0 437px,#6f1b97 0 456px,#6f1a97 0 475px,#6e1a97 0 494px,#6d1897 0 513px,#691597 0 532px,#681397 0 551px,#671397 0 570px,#671297 0 608px,#661297 0 627px,#661197 0)"></i>
<i style="top:95px;height:19px;background:linear-gradient(90deg,#ff3434 0 19px,#ff3535 0 38px,#ff3737 0 57px,#ff3b3b 0 76px,#bb1b4b 0 95px,#bb1c4d 0 133px,#bb1b4b 0 152px,#bb1848 0 171px,#bb093a 0 190px,#bb0839 0 228px,#bb0738 0 247px,#bb1e4f 0 266px,#bb3c6d 0 285px,#ba6697 0 304px,#8e3997 0 323px,#762297 0 342px,#741f97 0 361px,#721e97 0 380px,#711d97 0 399px,#711c97 0 437px,#701c97 0 475px,#6f1b97 0 494px,#6e1997 0 513px,#6a1597 0 532px,#681497 0 551px,#671397 0 570px,#671297 0 608px,#661297 0 627px,#661197 0)"></i>
<i style="top:114px;height:19px;background:linear-gradient(90deg,#ff3232 0 19px,#ff3434 0 38px,#ff3737 0 57px,#bb1a4a 0 76px,#bb1c4c 0 95px,#bb1c4d 0 133px,#bb1b4c 0 152px,#bb1949 0 171px,#bb0e3f 0 190px,#bb0939 0 209px,#bb0839 0 228px,#bb0738 0 247px,#bb1445 0 266px,#bb3566 0 285px,#bb5c8c 0 304px,#964197 0 323px,#7b2697 0 342px,#742097 0 361px,#721e97 0 380px,#711d97 0 399px,#711c97 0 475px,#701b97 0 494px,#6e1a97 0 513px,#6a1697 0 532px,#681497 0 551px,#671397 0 570px,#671297 0 608px,#661297 0 646px,#661197 0)"></i>
<i style="top:133px;height:19px;background:linear-gradient(90deg,#ff3232 0 19px,#ff3434 0 38px,#ff3838 0 57px,#bb1b4c 0 76px,#bb1c4d 0 95px,#bb1d4d 0 133px,#bb1b4c 0 152px,#bb1949 0 171px,#bb0f40 0 190px,#bb0939 0 209px,#bb0839 0 247px,#bb1444 0 266px,#bb3566 0 285px,#bb5c8c 0 304px,#964197 0 323px,#7b2797 0 342px,#742097 0 361px,#731e97 0 380px,#721d97 0 399px,#711d97 0 418px,#721d97 0 475px,#711c97 0 494px,#6f1b97 0 513px,#6b1797 0 532px,#691497 0 551px,#681397 0 570px,#671397 0 589px,#671297 0 627px,#661297 0 646px,#661197 0)"></i>
<i style="top:152px;height:19px;background:linear-gradient(90deg,#ff3232 0 19px,#ff3535 0 38px,#bb1a4b 0 57px,#bb1c4c 0 76px,#bb1d4d 0 95px,#bb1d4e 0 114px,#bb1d4d 0 133px,#bb1c4d 0 152px,#bb1a4b 0 171px,#bb1545 0 190px,#bb0b3b 0 209px,#bb0839 0 247px,#bb093a 0 266px,#bb1b4b 0 285px,#bb3b6b 0 304px,#bb6696 0 323px,#943f97 0 342px,#792497 0 361px,#741f97 0 380px,#721e97 0 418px,#731e97 0 437px,#731f97 0 475px,#731e97 0 494px,#721d97 0 513px,#6f1b97 0 532px,#6a1697 0 551px,#691497 0 570px,#681397 0 589px,#671397 0 608px,#671297 0 627px,#661297 0 646px,#661197 0)"></i>
<i style="top:171px;height:19px;background:linear-gradient(90deg,#ff3434 0 19px,#ff3838 0 38px,#bb1b4c 0 57px,#bb1c4d 0 76px,#bb1d4e 0 133px,#bb1c4d 0 152px,#bb1b4c 0 171px,#bb1647 0 190px,#bb0c3c 0 209px,#bb0939 0 228px,#bb093a 0 247px,#bb0a3b 0 266px,#bb1a4b 0 285px,#bb396a 0 304px,#bb6394 0 323px,#933e97 0 342px,#792597 0 361px,#741f97 0 380px,#721e97 0 399px,#731e97 0 418px,#7a2597 0 437px,#7b2797 0 456px,#7c2897 0 494px,#7c2797 0 513px,#721d97 0 532px,#6b1697 0 551px,#691497 0 570px,#681397 0 589px,#671397 0 608px,#671297 0 627px,#661297 0 665px,#661197 0)"></i>
<i style="top:190px;height:19px;background:linear-gradient(90deg,#ff3737 0 19px,#bb1a4b 0 38px,#bb1c4d 0 57px,#bb1d4d 0 76px,#bb1d4e 0 133px,#bb1d4d 0 152px,#bb1c4c 0 171px,#bb1a4b 0 190px,#bb1343 0 209px,#bb0a3b 0 247px,#bb0a3a 0 266px,#bb0e3f 0 285px,#bb1d4d 0 304px,#bb3868 0 323px,#bb6495 0 342px,#903b97 0 361px,#671397 0 380px,#6b1697 0 399px,#701b97 0 418px,#933e97 0 456px,#923e97 0 475px,#913d97 0 494px,#853197 0 513px,#721e97 0 532px,#6b1697 0 551px,#691497 0 570px,#681397 0 589px,#671397 0 608px,#671297 0 627px,#661297 0 646px,#661197 0)"></i>
<i style="top:209px;height:19px;background:linear-gradient(90deg,#ff3c3c 0 19px,#bb1c4c 0 38px,#bb1c4d 0 57px,#bb1d4e 0 152px,#bb1c4d 0 171px,#bb1b4b 0 190px,#bb1546 0 209px,#bb0b3c 0 228px,#bb0b3b 0 266px,#bb0c3d 0 285px,#bb1a4a 0 304px,#bb3667 0 323px,#bb6091 0 342px,#923d97 0 361px,#691497 0 399px,#721d97 0 418px,#a14d97 0 437px,#a34e97 0 456px,#a45097 0 475px,#a55097 0 494px,#8d3997 0 513px,#731e97 0 532px,#6a1597 0 551px,#691497 0 570px,#681397 0 589px,#671397 0 608px,#671297 0 627px,#661297 0 665px,#661197 0)"></i>
<i style="top:228px;height:19px;background:linear-gradient(90deg,#bb1c4d 0 38px,#bb1d4d 0 57px,#bb1d4e 0 152px,#bb1d4d 0 171px,#bb1c4c 0 190px,#bb1a4b 0 209px,#bb1849 0 228px,#bb1646 0 247px,#bb1343 0 266px,#bb0a3b 0 285px,#bb0939 0 304px,#bb0839 0 323px,#bb194a 0 342px,#bb3d6e 0 361px,#bb5d8d 0 380px,#9d4897 0 399px,#893497 0 418px,#a24d97 0 437px,#b86397 0 456px,#bb6394 0 475px,#bb6293 0 494px,#9d4897 0 513px,#7b2697 0 532px,#6a1697 0 551px,#6a1597 0 570px,#681497 0 589px,#681397 0 608px,#671397 0 627px,#671297 0 646px,#661297 0 665px,#661197 0)"></i>
<i style="top:247px;height:19px;background:linear-gradient(90deg,#bb1d4d 0 19px,#bb1d4e 0 171px,#bb1d4d 0 190px,#bb1c4c 0 209px,#bb1a4b 0 228px,#bb1849 0 247px,#bb1546 0 266px,#bb0a3a 0 285px,#bb0a3b 0 304px,#bb093a 0 323px,#bb1849 0 342px,#bb3e6f 0 361px,#bb5d8d 0 380px,#9d4997 0 399px,#883497 0 418px,#a24d97 0 437px,#b86497 0 456px,#bb6394 0 475px,#bb6293 0 494px,#9e4997 0 513px,#7c2897 0 532px,#6a1697 0 570px,#691497 0 589px,#681397 0 608px,#671397 0 627px,#671297 0 646px,#661297 0 665px,#661197 0)"></i>
<i style="top:266px;height:19px;background:linear-gradient(90deg,#bb1d4e 0 209px,#bb1d4d 0 228px,#bb1c4c 0 266px,#bb093a 0 285px,#bb0a3a 0 304px,#bb093a 0 323px,#bb0939 0 342px,#bb1445 0 361px,#bb2959 0 380px,#bb4778 0 399px,#ba6597 0 418px,#b66297 0 437px,#ba6597 0 456px,#bb4d7e 0 494px,#ab5697 0 513px,#812d97 0 532px,#6b1697 0 570px,#691497 0 589px,#681497 0 608px,#681397 0 627px,#671297 0 646px,#661297 0 665px,#661197 0)"></i>
<i style="top:285px;height:19px;background:linear-gradient(90deg,#bb1d4e 0 190px,#bb1e4e 0 228px,#bb1d4d 0 266px,#bb0a3b 0 285px,#bb0b3b 0 304px,#bb0a3b 0 323px,#bb0c3c 0 342px,#bb1344 0 361px,#bb2858 0 380px,#bb4677 0 399px,#ba6597 0 418px,#b66297 0 437px,#ba6597 0 456px,#bb4d7e 0 494px,#aa5697 0 513px,#822e97 0 532px,#6b1697 0 570px,#691497 0 589px,#681497 0 608px,#671397 0 627px,#671297 0 646px,#661297 0 665px,#661197 0)"></i>
<i style="top:304px;height:19px;background:linear-gradient(90deg,#bb1d4e 0 190px,#bb1e4e 0 228px,#bb1d4d 0 266px,#bb0c3d 0 285px,#bb0b3c 0 304px,#bb0c3c 0 323px,#bb0d3e 0 342px,#bb1040 0 361px,#bb2050 0 380px,#bb3f70 0 399px,#bb6696 0 418px,#b76397 0 456px,#bb6494 0 475px,#bb6293 0 494px,#a45097 0 513px,#822e97 0 532px,#6a1597 0 570px,#681497 0 589px,#681397 0 608px,#671297 0 627px,#661297 0 646px,#661197 0 665px,#651197 0)"></i>
<i style="top:323px;height:19px;background:linear-gradient(90deg,#bb1d4e 0 247px,#bb1d4d 0 266px,#bb1b4c 0 285px,#bb0e3f 0 323px,#bb0e3e 0 342px,#bb1343 0 361px,#bb2454 0 380px,#bb3d6e 0 399px,#bb6697 0 418px,#a75397 0 456px,#a75297 0 475px,#a65297 0 494px,#923d97 0 513px,#7d2897 0 532px,#691497 0 551px,#681497 0 570px,#671297 0 589px,#661297 0 608px,#661197 0 627px,#651197 0 646px,#651097 0)"></i>
<i style="top:342px;height:19px;background:linear-gradient(90deg,#bb1d4d 0 57px,#bb1d4e 0 76px,#bb1e4e 0 95px,#bb1e4f 0 133px,#bb1e4e 0 171px,#bb1d4e 0 228px,#bb1d4d 0 247px,#bb1c4d 0 266px,#bb1c4c 0 285px,#bb1a4b 0 304px,#bb1242 0 323px,#bb1041 0 342px,#bb295a 0 361px,#bb3869 0 380px,#bb6292 0 399px,#a65297 0 418px,#974297 0 437px,#943f97 0 456px,#933e97 0 475px,#923e97 0 494px,#832e97 0 513px,#6c1897 0 532px,#671297 0 570px,#661197 0 589px,#651197 0 608px,#651097 0 646px,#641097 0)"></i>
<i style="top:361px;height:19px;background:linear-gradient(90deg,#bb1c4d 0 38px,#bb1d4d 0 57px,#bb1d4e 0 76px,#bb1e4f 0 95px,#bb1f50 0 133px,#bb1f4f 0 152px,#bb1e4e 0 171px,#bb1d4e 0 228px,#bb1d4d 0 247px,#bb1c4c 0 266px,#bb1b4b 0 304px,#bb1c4d 0 323px,#bb1e4f 0 342px,#bb3263 0 361px,#bb5d8d 0 380px,#a55197 0 399px,#873397 0 418px,#6f1a97 0 456px,#6e1a97 0 475px,#6e1997 0 494px,#6d1897 0 513px,#6c1797 0 532px,#671397 0 551px,#661197 0 570px,#651097 0 608px,#641097 0 646px,#640f97 0)"></i>
<i style="top:380px;height:19px;background:linear-gradient(90deg,#bb1b4c 0 38px,#bb1c4d 0 76px,#bb2c5d 0 133px,#bb2a5b 0 152px,#bb1f4f 0 171px,#bb1e4e 0 190px,#bb1d4e 0 209px,#bb1d4d 0 228px,#bb1c4d 0 247px,#bb1a4b 0 266px,#bb1546 0 304px,#bb1b4b 0 323px,#bb2e5f 0 342px,#bb5080 0 361px,#a14c97 0 380px,#7d2997 0 399px,#6c1897 0 418px,#6c1797 0 437px,#6c1897 0 456px,#6c1797 0 494px,#6b1697 0 513px,#691597 0 532px,#671297 0 551px,#651197 0 570px,#651097 0 589px,#641097 0 627px,#640f97 0)"></i>
<i style="top:399px;height:19px;background:linear-gradient(90deg,#bb1b4b 0 38px,#bb1c4c 0 57px,#bb1b4c 0 76px,#bb2f60 0 95px,#bb2f5f 0 114px,#bb2c5d 0 133px,#bb2b5b 0 152px,#bb1f50 0 171px,#bb1e4f 0 190px,#bb1d4e 0 209px,#bb1d4d 0 228px,#bb1b4c 0 247px,#bb1949 0 266px,#bb1445 0 304px,#bb1a4b 0 323px,#bb2f60 0 342px,#bb5889 0 361px,#9e4997 0 380px,#7c2797 0 399px,#6d1897 0 418px,#6c1897 0 437px,#6b1697 0 456px,#6a1697 0 475px,#6a1597 0 494px,#691597 0 513px,#681397 0 532px,#671297 0 551px,#651197 0 570px,#651097 0 608px,#641097 0 627px,#640f97 0)"></i>
<i style="top:418px;height:19px;background:linear-gradient(90deg,#bb1a4b 0 38px,#bb1c4c 0 57px,#bb1b4c 0 76px,#bb3262 0 95px,#bb3161 0 114px,#bb2c5c 0 133px,#bb2959 0 152px,#bb1f50 0 171px,#bb1e4f 0 190px,#bb1d4e 0 209px,#bb1d4d 0 228px,#bb1b4c 0 247px,#bb1949 0 266px,#bb1445 0 285px,#bb1444 0 304px,#bb1b4c 0 323px,#bb3263 0 342px,#bb5b8b 0 361px,#9d4897 0 380px,#7b2797 0 399px,#6c1797 0 437px,#6a1697 0 456px,#6a1597 0 475px,#691597 0 494px,#691497 0 513px,#681397 0 532px,#671297 0 551px,#661197 0 570px,#651197 0 589px,#651097 0 627px,#641097 0 646px,#640f97 0)"></i>
<i style="top:437px;height:19px;background:linear-gradient(90deg,#bb1a4b 0 38px,#bb1b4c 0 76px,#bb3263 0 95px,#bb3162 0 114px,#bb2b5c 0 133px,#bb2758 0 152px,#bb2050 0 171px,#bb1e4f 0 190px,#bb1d4e 0 209px,#bb1d4d 0 228px,#bb1c4c 0 247px,#bb1a4b 0 266px,#bb1546 0 285px,#bb1545 0 304px,#bb1d4d 0 323px,#bb3364 0 342px,#bb5b8c 0 361px,#9c4897 0 380px,#7b2797 0 399px,#6b1697 0 418px,#6c1797 0 437px,#6b1697 0 456px,#6a1597 0 475px,#691597 0 494px,#691497 0 513px,#681497 0 532px,#671397 0 551px,#671297 0 570px,#661297 0 589px,#661197 0 608px,#651097 0 646px,#641097 0 665px,#640f97 0)"></i>
<i style="top:456px;height:19px;background:linear-gradient(90deg,#bb1a4b 0 38px,#bb1b4c 0 76px,#bb3263 0 95px,#bb3162 0 114px,#bb295a 0 133px,#bb2556 0 152px,#bb1f4f 0 171px,#bb1d4e 0 190px,#bb1d4d 0 228px,#bb1c4d 0 247px,#bb1c4c 0 266px,#bb1b4c 0 285px,#bb1c4d 0 304px,#bb1f4f 0 323px,#bb3363 0 342px,#bb5586 0 361px,#b96597 0 380px,#8d3897 0 399px,#782397 0 418px,#6e1997 0 437px,#6d1897 0 456px,#6b1797 0 475px,#6a1697 0 494px,#6a1597 0 513px,#691497 0 532px,#681497 0 551px,#671397 0 570px,#671297 0 589px,#661297 0 608px,#651197 0 627px,#651097 0 646px,#641097 0 665px,#640f97 0)"></i>
<i style="top:475px;height:19px;background:linear-gradient(90deg,#bb1a4b 0 38px,#bb1b4c 0 57px,#bb1b4b 0 76px,#bb2f60 0 95px,#bb2d5e 0 114px,#bb2b5c 0 133px,#bb1e4f 0 152px,#bb1d4e 0 171px,#bb1c4d 0 228px,#bb1c4c 0 285px,#bb1c4d 0 304px,#bb1d4e 0 323px,#bb2758 0 342px,#bb3c6d 0 361px,#bb6293 0 380px,#9c4797 0 399px,#822d97 0 418px,#711d97 0 437px,#6d1997 0 456px,#6c1897 0 475px,#6b1697 0 494px,#6a1597 0 513px,#691597 0 532px,#691497 0 551px,#681397 0 570px,#671297 0 589px,#661297 0 608px,#661197 0 627px,#651097 0 646px,#641097 0 665px,#640f97 0)"></i>
<i style="top:494px;height:19px;background:linear-gradient(90deg,#bb1a4b 0 57px,#bb1b4b 0 76px,#bb1b4c 0 95px,#bb2858 0 114px,#bb1c4d 0 133px,#bb1c4c 0 171px,#bb1b4c 0 190px,#bb1b4b 0 266px,#bb1b4c 0 304px,#bb1c4d 0 342px,#bb2859 0 361px,#bb3d6d 0 380px,#bb6292 0 399px,#9c4897 0 418px,#832e97 0 437px,#6e1997 0 456px,#6d1897 0 475px,#6b1797 0 494px,#6a1697 0 513px,#691597 0 532px,#681497 0 551px,#681397 0 570px,#671297 0 589px,#661197 0 608px,#651197 0 627px,#651097 0 646px,#641097 0 665px,#640f97 0)"></i>
<i style="top:513px;height:19px;background:linear-gradient(90deg,#bb1a4b 0 57px,#bb1b4b 0 76px,#bb1b4c 0 152px,#bb1a4b 0 171px,#bb1a4a 0 190px,#bb194a 0 209px,#bb1949 0 247px,#bb194a 0 266px,#bb1a4a 0 285px,#bb1a4b 0 304px,#bb1b4c 0 323px,#bb1c4d 0 342px,#bb2353 0 361px,#bb3364 0 380px,#bb4c7d 0 399px,#b25d97 0 418px,#8c3797 0 437px,#711c97 0 456px,#6c1897 0 475px,#6b1797 0 494px,#6a1597 0 513px,#691497 0 532px,#681397 0 551px,#671297 0 570px,#661197 0 589px,#651197 0 608px,#651097 0 627px,#640f97 0 665px,#630f97 0)"></i>
<i style="top:532px;height:19px;background:linear-gradient(90deg,#bb1b4b 0 57px,#bb1b4c 0 133px,#bb1b4b 0 152px,#bb1a4b 0 171px,#bb1949 0 190px,#bb1849 0 209px,#bb1848 0 247px,#bb1849 0 266px,#bb1949 0 285px,#bb1a4a 0 304px,#bb1a4b 0 323px,#bb1c4c 0 342px,#bb1c4d 0 361px,#bb2859 0 380px,#bb3d6d 0 399px,#bb5c8d 0 418px,#9c4897 0 437px,#7d2897 0 456px,#6c1897 0 475px,#6b1797 0 494px,#691597 0 513px,#681497 0 532px,#661297 0 551px,#651197 0 570px,#651097 0 589px,#640f97 0 627px,#630f97 0 646px,#630e97 0)"></i>
<i style="top:551px;height:19px;background:linear-gradient(90deg,#bb1c4c 0 133px,#bb1b4c 0 152px,#bb1b4b 0 171px,#bb194a 0 190px,#bb1849 0 266px,#bb1949 0 285px,#bb1a4a 0 304px,#bb194a 0 323px,#bb1a4a 0 342px,#bb1b4c 0 361px,#bb2858 0 380px,#bb3c6d 0 399px,#bb5c8d 0 418px,#9c4897 0 437px,#7d2897 0 456px,#6c1797 0 475px,#6b1697 0 494px,#691497 0 513px,#681397 0 532px,#651197 0 551px,#640f97 0 570px,#630f97 0 589px,#630e97 0 627px,#620e97 0 665px,#620d97 0)"></i>
<i style="top:570px;height:19px;background:linear-gradient(90deg,#bb1c4d 0 152px,#bb1c4c 0 171px,#bb1b4c 0 228px,#bb1b4b 0 266px,#bb1a4b 0 285px,#bb1a4a 0 304px,#bb1445 0 342px,#bb1647 0 361px,#bb2454 0 380px,#bb3a6a 0 399px,#bb5c8d 0 418px,#9d4897 0 437px,#7c2797 0 456px,#6b1797 0 475px,#6a1697 0 494px,#681497 0 513px,#671297 0 532px,#641097 0 551px,#630e97 0 570px,#620e97 0 608px,#620d97 0)"></i>
<i style="top:589px;height:19px;background:linear-gradient(90deg,#bb1d4d 0 190px,#bb1c4d 0 228px,#bb1c4c 0 266px,#bb1b4b 0 285px,#bb194a 0 304px,#bb1142 0 323px,#bb1343 0 342px,#bb1545 0 361px,#bb2454 0 380px,#bb3969 0 399px,#bb5c8d 0 418px,#9c4897 0 437px,#7a2697 0 456px,#6b1797 0 475px,#6a1697 0 494px,#681397 0 513px,#661197 0 532px,#630f97 0 551px,#620e97 0 570px,#620d97 0)"></i>
<i style="top:608px;height:18px;background:linear-gradient(90deg,#bb1d4e 0 209px,#bb1d4d 0 228px,#bb1c4d 0 247px,#bb1b4c 0 266px,#bb0f3f 0 285px,#bb0e3f 0 304px,#bb0f3f 0 323px,#bb1141 0 342px,#bb1444 0 361px,#bb2455 0 380px,#bb3868 0 399px,#bb5c8c 0 418px,#9b4797 0 437px,#792497 0 456px,#6c1897 0 475px,#6b1697 0 494px,#681397 0 513px,#651097 0 532px,#630f97 0 551px,#620e97 0 589px,#620d97 0)"></i>
<i style="top:626px;height:19px;background:linear-gradient(90deg,#bb1d4e 0 209px,#bb1c4d 0 228px,#bb1c4c 0 247px,#bb0e3e 0 266px,#bb0c3c 0 285px,#bb0c3d 0 304px,#bb0d3e 0 323px,#bb1040 0 342px,#bb1848 0 361px,#bb2d5e 0 380px,#bb4d7d 0 399px,#bb6596 0 418px,#913d97 0 437px,#792597 0 456px,#6b1797 0 475px,#6a1697 0 494px,#681497 0 513px,#651197 0 532px,#640f97 0 551px,#630f97 0 570px,#630e97 0 608px,#620e97 0 627px,#620d97 0)"></i>
<i style="top:645px;height:19px;background:linear-gradient(90deg,#bb1d4e 0 209px,#bb1c4d 0 228px,#bb1b4c 0 247px,#bb1040 0 266px,#bb0b3c 0 304px,#bb0c3d 0 323px,#bb1344 0 342px,#bb2959 0 361px,#bb4878 0 380px,#bb6697 0 399px,#903b97 0 418px,#893497 0 437px,#883397 0 456px,#7e2997 0 475px,#6b1697 0 494px,#691497 0 513px,#671297 0 532px,#661197 0 551px,#651097 0 570px,#640f97 0 608px,#630e97 0 646px,#620e97 0 665px,#620d97 0)"></i>
<i style="top:664px;height:19px;background:linear-gradient(90deg,#bb1d4e 0 209px,#bb1c4d 0 228px,#bb1b4c 0 247px,#bb1242 0 266px,#bb093a 0 285px,#bb0839 0 304px,#bb0e3f 0 323px,#bb1f4f 0 342px,#bb3f6f 0 361px,#bb6697 0 380px,#954097 0 399px,#883497 0 418px,#883397 0 437px,#873397 0 456px,#7d2897 0 475px,#6b1697 0 494px,#6a1597 0 513px,#681397 0 532px,#671297 0 551px,#661197 0 570px,#651097 0 589px,#641097 0 608px,#630f97 0 627px,#630e97 0 646px,#620e97 0 665px,#620d97 0)"></i>
<i style="top:683px;height:19px;background:linear-gradient(90deg,#bb1d4e 0 209px,#bb1d4d 0 228px,#bb1c4d 0 266px,#bb194a 0 285px,#bb2051 0 304px,#bb2758 0 323px,#bb3f6f 0 342px,#bb6596 0 361px,#954197 0 380px,#873297 0 437px,#863297 0 456px,#792497 0 475px,#6c1897 0 494px,#6a1697 0 513px,#681497 0 532px,#671297 0 551px,#661197 0 570px,#651197 0 589px,#651097 0 608px,#640f97 0 627px,#630f97 0 646px,#630e97 0 665px,#620e97 0)"></i>
<i style="top:702px;height:19px;background:linear-gradient(90deg,#bb1d4e 0 190px,#bb1d4d 0 209px,#bb1c4d 0 228px,#bb1c4c 0 247px,#bb1d4d 0 266px,#bb2353 0 285px,#bb2758 0 304px,#bb4171 0 323px,#bb6596 0 342px,#933f97 0 361px,#822d97 0 380px,#832e97 0 399px,#822e97 0 418px,#822d97 0 456px,#711c97 0 475px,#6e1a97 0 494px,#6b1797 0 513px,#691497 0 532px,#671397 0 551px,#671297 0 570px,#661197 0 589px,#651097 0 608px,#641097 0 627px,#640f97 0 646px,#630f97 0 665px,#630e97 0)"></i>
<i style="top:721px;height:19px;background:linear-gradient(90deg,#bb1d4e 0 190px,#bb1d4d 0 209px,#bb1c4c 0 228px,#bb1849 0 247px,#bb1748 0 266px,#bb2454 0 285px,#bb3263 0 304px,#bb5f8f 0 323px,#964297 0 342px,#7d2897 0 361px,#7c2797 0 418px,#7b2797 0 437px,#7a2597 0 456px,#701b97 0 475px,#6e1997 0 494px,#6c1797 0 513px,#6a1597 0 532px,#691497 0 551px,#681397 0 570px,#671297 0 589px,#661197 0 608px,#651197 0 627px,#651097 0 646px,#640f97 0)"></i>
<i style="top:740px;height:19px;background:linear-gradient(90deg,#bb1d4e 0 190px,#bb1c4d 0 209px,#bb1b4c 0 228px,#bb1747 0 247px,#bb1344 0 266px,#bb2455 0 285px,#bb3667 0 304px,#b86397 0 323px,#7f2b97 0 342px,#752097 0 361px,#752197 0 380px,#752097 0 418px,#741f97 0 437px,#721e97 0 456px,#6e1a97 0 475px,#6d1897 0 494px,#6c1797 0 513px,#6a1697 0 532px,#691597 0 551px,#691497 0 570px,#681397 0 589px,#671297 0 608px,#661297 0 627px,#651197 0 646px,#651097 0)"></i>
<i style="top:759px;height:19px;background:linear-gradient(90deg,#bb1d4e 0 190px,#bb1d4d 0 209px,#bb1c4c 0 228px,#bb194a 0 247px,#bb1848 0 266px,#bb2e5f 0 285px,#bb4d7d 0 304px,#9a4697 0 323px,#792597 0 342px,#741f97 0 361px,#731f97 0 380px,#721e97 0 399px,#721d97 0 418px,#711c97 0 437px,#701b97 0 456px,#6e1a97 0 475px,#6d1897 0 494px,#6c1797 0 513px,#6b1697 0 532px,#6a1597 0 551px,#691497 0 570px,#681497 0 589px,#681397 0 608px,#671297 0 627px,#661297 0 646px,#661197 0 665px,#651197 0)"></i>
<i style="top:778px;height:19px;background:linear-gradient(90deg,#bb1d4d 0 95px,#bb1d4e 0 133px,#bb1e4e 0 152px,#bb1d4e 0 190px,#bb1d4d 0 209px,#bb1c4d 0 228px,#bb1d4d 0 247px,#bb1e4f 0 266px,#bb3868 0 285px,#bb6292 0 304px,#933e97 0 323px,#762297 0 342px,#731e97 0 361px,#711d97 0 380px,#701c97 0 399px,#701b97 0 418px,#6f1b97 0 437px,#6f1a97 0 456px,#6e1997 0 475px,#6d1897 0 494px,#6c1797 0 513px,#6b1697 0 532px,#6a1597 0 551px,#691497 0 570px,#681497 0 589px,#681397 0 608px,#671297 0 627px,#661297 0 646px,#661197 0)"></i>
<i style="top:797px;height:19px;background:linear-gradient(90deg,#bb1d4d 0 95px,#bb1d4e 0 114px,#bb1e4e 0 171px,#bb1d4e 0 190px,#bb1d4d 0 228px,#bb1e4e 0 247px,#bb2252 0 266px,#bb4a7a 0 285px,#ac5797 0 304px,#883397 0 323px,#731f97 0 342px,#711c97 0 361px,#6f1b97 0 380px,#6f1a97 0 399px,#6e1a97 0 418px,#6e1997 0 456px,#6d1997 0 475px,#6c1897 0 494px,#6b1797 0 513px,#6a1697 0 532px,#691597 0 551px,#691497 0 570px,#681397 0 608px,#671297 0 646px,#661297 0 665px,#661197 0)"></i>
<i style="top:816px;height:19px;background:linear-gradient(90deg,#bb1d4d 0 95px,#bb1d4e 0 133px,#bb1e4e 0 152px,#bb1d4e 0 171px,#bb1d4d 0 190px,#bb1c4d 0 209px,#bb1d4e 0 228px,#bb1e4f 0 247px,#bb2555 0 266px,#bb5384 0 285px,#954097 0 304px,#7c2797 0 323px,#6f1a97 0 342px,#681497 0 361px,#671397 0 380px,#671297 0 399px,#671397 0 418px,#681497 0 437px,#6a1597 0 456px,#6b1797 0 475px,#6b1697 0 494px,#6a1697 0 513px,#6a1597 0 532px,#691497 0 551px,#681497 0 570px,#681397 0 589px,#671397 0 608px,#671297 0 627px,#661297 0 665px,#661197 0)"></i>
<i style="top:835px;height:19px;background:linear-gradient(90deg,#bb1d4e 0 152px,#bb1c4d 0 171px,#bb1b4c 0 209px,#bb1c4d 0 228px,#bb1e4f 0 247px,#bb2758 0 266px,#bb5788 0 285px,#923d97 0 304px,#792497 0 323px,#6b1697 0 342px,#681397 0 361px,#671297 0 380px,#661297 0 399px,#671297 0 418px,#681397 0 437px,#691497 0 456px,#6a1597 0 513px,#691497 0 532px,#681497 0 551px,#681397 0 589px,#671397 0 608px,#671297 0 627px,#661297 0 646px,#661197 0)"></i>
<i style="top:854px;height:19px;background:linear-gradient(90deg,#bb1d4e 0 114px,#bb1d4d 0 133px,#bb1c4d 0 152px,#bb1b4b 0 171px,#bb1849 0 209px,#bb194a 0 228px,#bb1d4e 0 247px,#bb2c5d 0 266px,#bb5c8c 0 285px,#8d3897 0 304px,#7a2597 0 323px,#6b1797 0 342px,#6b1697 0 361px,#691597 0 380px,#691497 0 437px,#691597 0 456px,#6a1597 0 494px,#691597 0 513px,#691497 0 532px,#681497 0 551px,#681397 0 570px,#671397 0 589px,#671297 0 627px,#661297 0 646px,#661197 0)"></i>
<i style="top:873px;height:19px;background:linear-gradient(90deg,#bb1d4e 0 114px,#bb1c4d 0 133px,#bb1c4c 0 152px,#bb1343 0 171px,#bb1242 0 190px,#bb1344 0 209px,#bb1646 0 228px,#bb2354 0 247px,#bb3767 0 266px,#bb6595 0 285px,#812c97 0 304px,#7e2a97 0 323px,#6f1b97 0 342px,#6e1997 0 361px,#6d1897 0 380px,#6c1897 0 399px,#6c1797 0 418px,#6b1797 0 456px,#6b1697 0 494px,#6a1597 0 513px,#691597 0 532px,#691497 0 551px,#681397 0 570px,#671397 0 589px,#671297 0 608px,#661297 0 646px,#661197 0)"></i>
<i style="top:892px;height:19px;background:linear-gradient(90deg,#bb1d4e 0 114px,#bb1c4d 0 133px,#bb1b4c 0 152px,#bb0e3f 0 171px,#bb0f40 0 209px,#bb1445 0 228px,#bb2858 0 247px,#bb4677 0 266px,#ad5897 0 285px,#7f2b97 0 304px,#7f2a97 0 323px,#7f2b97 0 342px,#7f2a97 0 361px,#6f1b97 0 380px,#6f1a97 0 399px,#6e1997 0 437px,#6d1997 0 456px,#6d1897 0 475px,#6c1897 0 494px,#6c1797 0 513px,#6a1697 0 532px,#691497 0 551px,#681397 0 570px,#671297 0 589px,#661297 0 608px,#661197 0 646px,#651197 0 665px,#651097 0)"></i>
<i style="top:911px;height:19px;background:linear-gradient(90deg,#bb1d4e 0 95px,#bb1d4d 0 114px,#bb1b4c 0 152px,#bb0d3e 0 171px,#bb0e3e 0 190px,#bb0f40 0 209px,#bb1e4f 0 228px,#bb3a6a 0 247px,#bb5e8f 0 266px,#964197 0 285px,#7e2a97 0 304px,#7f2a97 0 323px,#7e2a97 0 342px,#731f97 0 361px,#701c97 0 380px,#6f1a97 0 399px,#6d1997 0 418px,#6d1897 0 456px,#6c1897 0 475px,#6c1797 0 494px,#6b1697 0 513px,#6a1597 0 532px,#651197 0 551px,#640f97 0 570px,#630f97 0 589px,#630e97 0 608px,#620e97 0 627px,#620d97 0 646px,#610c97 0 665px,#2323ff 0)"></i>
<i style="top:930px;height:19px;background:linear-gradient(90deg,#bb1d4e 0 57px,#bb1e4e 0 76px,#bb1d4e 0 95px,#bb1d4d 0 114px,#bb1c4c 0 133px,#bb1a4b 0 152px,#bb0c3c 0 171px,#bb0d3d 0 190px,#bb1343 0 209px,#bb2354 0 228px,#bb4172 0 247px,#bb6595 0 266px,#873297 0 285px,#782397 0 304px,#7c2797 0 323px,#7b2697 0 342px,#741f97 0 361px,#711c97 0 380px,#6e1997 0 399px,#6c1797 0 437px,#6b1797 0 456px,#6b1697 0 494px,#6a1597 0 513px,#681397 0 532px,#620d97 0 551px,#600c97 0 570px,#600b97 0 589px,#5f0b97 0 608px,#5f0a97 0 627px,#5e0997 0 646px,#1e1eff 0 665px,#1b1bff 0)"></i>
<i style="top:949px;height:19px;background:linear-gradient(90deg,#bb1d4e 0 38px,#bb1e4f 0 76px,#bb1e4e 0 95px,#bb1d4e 0 114px,#bb0c3d 0 133px,#bb0b3c 0 152px,#bb0b3b 0 190px,#bb1546 0 209px,#bb2d5d 0 228px,#bb5889 0 247px,#913c97 0 266px,#772297 0 285px,#762197 0 323px,#752097 0 342px,#741f97 0 361px,#701b97 0 380px,#6d1897 0 399px,#6a1597 0 437px,#691597 0 475px,#691497 0 494px,#681497 0 513px,#671297 0 532px,#5f0a97 0 551px,#5d0897 0 570px,#5c0897 0 608px,#5c0797 0 627px,#5b0697 0 646px,#1b1bff 0 665px,#1818ff 0)"></i>
<i style="top:968px;height:19px;background:linear-gradient(90deg,#bb1c4d 0 19px,#bb1e4e 0 38px,#bb1f4f 0 57px,#bb2050 0 76px,#bb1f50 0 114px,#bb0a3b 0 133px,#bb0b3c 0 152px,#bb0b3b 0 171px,#bb0a3a 0 190px,#bb2656 0 209px,#bb3d6d 0 228px,#bb6596 0 247px,#883497 0 266px,#752097 0 285px,#762197 0 304px,#742097 0 323px,#741f97 0 342px,#731f97 0 361px,#701c97 0 380px,#6d1997 0 399px,#6a1697 0 437px,#6a1597 0 494px,#691497 0 513px,#671397 0 532px,#5e0997 0 551px,#5c0897 0 570px,#5c0797 0 627px,#5b0697 0 646px,#1c1cff 0 665px,#1919ff 0)"></i>
<i style="top:987px;height:19px;background:linear-gradient(90deg,#bb1646 0 19px,#bb1747 0 38px,#bb2051 0 57px,#bb2152 0 76px,#bb2051 0 95px,#bb2252 0 114px,#bb0a3a 0 133px,#bb0b3b 0 152px,#bb0a3b 0 171px,#bb093a 0 190px,#bb2f5f 0 209px,#bb5384 0 228px,#954097 0 247px,#792497 0 266px,#752197 0 285px,#752097 0 304px,#741f97 0 342px,#731f97 0 361px,#701c97 0 380px,#6d1997 0 399px,#6b1697 0 418px,#6a1697 0 456px,#6a1597 0 494px,#691497 0 513px,#671397 0 532px,#5d0897 0 551px,#5c0797 0 608px,#5d0897 0 627px,#2626ff 0 646px,#2323ff 0 665px,#22f 0)"></i>
<i style="top:1006px;height:19px;background:linear-gradient(90deg,#bb1445 0 19px,#bb1545 0 38px,#bb2051 0 76px,#bb2050 0 95px,#bb2253 0 114px,#bb0a3a 0 133px,#bb0b3c 0 152px,#bb0a3a 0 171px,#bb1242 0 190px,#bb3869 0 209px,#bb6191 0 228px,#8d3997 0 247px,#772397 0 266px,#762197 0 285px,#742097 0 304px,#741f97 0 342px,#731f97 0 361px,#711c97 0 380px,#6e1997 0 399px,#6b1697 0 418px,#6a1697 0 456px,#6a1597 0 494px,#691497 0 513px,#671397 0 532px,#5d0997 0 551px,#5d0897 0 570px,#5c0897 0 589px,#5d0897 0 608px,#5e0997 0 627px,#2929ff 0 646px,#2828ff 0 665px,#2727ff 0)"></i>
<i style="top:1025px;height:19px;background:linear-gradient(90deg,#bb1344 0 19px,#bb1445 0 38px,#bb1c4d 0 57px,#bb1e4f 0 95px,#bb1f50 0 114px,#bb0b3b 0 133px,#bb0c3c 0 152px,#bb0a3b 0 171px,#bb2050 0 190px,#bb4979 0 209px,#964197 0 228px,#802b97 0 247px,#762197 0 266px,#752197 0 285px,#742097 0 323px,#741f97 0 361px,#711c97 0 380px,#6e1997 0 399px,#6a1697 0 418px,#6a1597 0 456px,#691597 0 494px,#681497 0 513px,#671397 0 532px,#5f0b97 0 551px,#5e0a97 0 589px,#5f0a97 0 627px,#2c2cff 0 646px,#2b2bff 0 665px,#2a2aff 0)"></i>
<i style="top:1044px;height:19px;background:linear-gradient(90deg,#bb1142 0 19px,#bb1242 0 38px,#bb1243 0 57px,#bb1343 0 76px,#bb1243 0 95px,#bb1041 0 114px,#bb0c3d 0 133px,#bb0d3d 0 152px,#bb0b3b 0 171px,#bb2454 0 190px,#bb5888 0 209px,#7b2797 0 228px,#762197 0 247px,#752197 0 266px,#752097 0 285px,#742097 0 304px,#741f97 0 361px,#711c97 0 380px,#6d1997 0 399px,#691597 0 418px,#681497 0 437px,#681397 0 456px,#681497 0 494px,#681397 0 513px,#671297 0 532px,#620e97 0 551px,#610c97 0 589px,#600c97 0 608px,#600b97 0 627px,#2d2dff 0 646px,#2c2cff 0 665px,#2d2dff 0)"></i>
<i style="top:1063px;height:19px;background:linear-gradient(90deg,#bb0f40 0 19px,#bb0f3f 0 57px,#bb0e3f 0 76px,#bb0e3e 0 95px,#bb0d3e 0 114px,#bb0c3d 0 133px,#bb0d3d 0 152px,#bb0c3c 0 171px,#bb2758 0 190px,#bb6797 0 209px,#6c1797 0 228px,#731f97 0 247px,#741f97 0 323px,#731f97 0 361px,#701b97 0 380px,#6c1897 0 399px,#620d97 0 418px,#600c97 0 456px,#620d97 0 475px,#661197 0 494px,#661297 0 513px,#651197 0 532px,#640f97 0 551px,#630e97 0 570px,#620d97 0 589px,#610d97 0 608px,#600b97 0 627px,#2c2cff 0 665px,#2d2dff 0)"></i>
<i style="top:1082px;height:19px;background:linear-gradient(90deg,#bb0f3f 0 19px,#bb0d3e 0 38px,#bb0c3d 0 57px,#bb0c3c 0 76px,#bb0b3c 0 133px,#bb0c3c 0 152px,#bb194a 0 171px,#bb3a6a 0 190px,#ac5797 0 209px,#691497 0 228px,#721d97 0 247px,#721e97 0 266px,#731e97 0 285px,#721e97 0 304px,#721d97 0 361px,#6e1a97 0 380px,#6a1697 0 399px,#610c97 0 418px,#600b97 0 456px,#610c97 0 475px,#640f97 0 494px,#651097 0 532px,#640f97 0 551px,#630e97 0 570px,#620e97 0 589px,#610c97 0 608px,#2929ff 0 627px,#2828ff 0 646px,#2929ff 0 665px,#2b2bff 0)"></i>
<i style="top:1101px;height:19px;background:linear-gradient(90deg,#bb1647 0 19px,#bb1545 0 38px,#bb0b3b 0 57px,#bb0a3b 0 76px,#bb093a 0 95px,#bb0a3a 0 114px,#bb0a3b 0 133px,#bb0a3a 0 152px,#bb1f4f 0 171px,#bb4272 0 190px,#9b4697 0 209px,#6b1697 0 228px,#721d97 0 247px,#721e97 0 266px,#721d97 0 285px,#701c97 0 304px,#701b97 0 323px,#6f1b97 0 342px,#6f1a97 0 361px,#6c1797 0 380px,#681397 0 399px,#630e97 0 418px,#610c97 0 456px,#610d97 0 475px,#630e97 0 494px,#630f97 0 532px,#630e97 0 551px,#620e97 0 570px,#610d97 0 589px,#5f0b97 0 608px,#2323ff 0 646px,#2525ff 0 665px,#2828ff 0)"></i>
<i style="top:1120px;height:19px;background:linear-gradient(90deg,#bb1c4d 0 38px,#bb0939 0 57px,#bb093a 0 76px,#bb0839 0 95px,#bb0939 0 114px,#bb093a 0 133px,#bb0839 0 152px,#bb2959 0 171px,#bb5383 0 190px,#974397 0 209px,#711c97 0 228px,#742097 0 247px,#731e97 0 266px,#6c1797 0 285px,#691597 0 304px,#681497 0 323px,#681397 0 361px,#651097 0 380px,#620d97 0 399px,#5f0a97 0 418px,#5e0a97 0 437px,#5f0a97 0 456px,#600b97 0 475px,#610d97 0 494px,#620d97 0 551px,#610c97 0 570px,#600b97 0 589px,#2020ff 0 608px,#1d1dff 0 646px,#2020ff 0 665px,#2323ff 0)"></i>
<i style="top:1139px;height:19px;background:linear-gradient(90deg,#bb2c5d 0 19px,#bb2758 0 38px,#bb0838 0 57px,#bb0839 0 76px,#bb0838 0 95px,#bb093a 0 114px,#bb0838 0 133px,#bb1b4c 0 152px,#bb3262 0 171px,#bb5a8b 0 190px,#933e97 0 209px,#7a2697 0 228px,#792497 0 247px,#762197 0 266px,#731f97 0 285px,#641097 0 304px,#651097 0 323px,#640f97 0 342px,#630f97 0 361px,#600c97 0 380px,#5e0997 0 399px,#5b0697 0 437px,#5b0797 0 456px,#5c0897 0 475px,#5f0b97 0 494px,#600b97 0 513px,#600c97 0 532px,#600b97 0 551px,#5f0b97 0 570px,#5e0997 0 589px,#1818ff 0 608px,#1717ff 0 627px,#1818ff 0 646px,#2020ff 0 665px,#22f 0)"></i>
<i style="top:1158px;height:19px;background:linear-gradient(90deg,#bb3262 0 19px,#bb295a 0 38px,#bb0738 0 133px,#bb2657 0 152px,#bb4778 0 171px,#a65297 0 190px,#873297 0 209px,#7a2697 0 228px,#782397 0 247px,#762197 0 266px,#752197 0 285px,#630f97 0 304px,#630e97 0 323px,#620d97 0 342px,#610d97 0 361px,#5e0a97 0 380px,#5b0797 0 399px,#5a0697 0 475px,#5c0897 0 494px,#5d0997 0 513px,#5e0997 0 551px,#5d0997 0 570px,#5c0797 0 589px,#1414ff 0 608px,#1313ff 0 627px,#1515ff 0 646px,#1e1eff 0 665px,#2121ff 0)"></i>
<i style="top:1177px;height:19px;background:linear-gradient(90deg,#bb3667 0 19px,#bb2a5b 0 38px,#bb0637 0 76px,#bb0738 0 95px,#bb0637 0 114px,#bb2152 0 133px,#bb4071 0 152px,#bb5c8c 0 171px,#8b3697 0 190px,#7d2897 0 209px,#772297 0 228px,#762197 0 247px,#752097 0 266px,#741f97 0 285px,#731e97 0 304px,#711d97 0 323px,#701b97 0 342px,#610c97 0 361px,#5e0997 0 380px,#5a0697 0 570px,#1616ff 0 589px,#11f 0 608px,#1010ff 0 627px,#1212ff 0 646px,#1717ff 0 665px,#1b1bff 0)"></i>
<i style="top:1196px;height:19px;background:linear-gradient(90deg,#bb3768 0 19px,#bb2a5b 0 38px,#bb0536 0 57px,#bb0636 0 76px,#bb0738 0 95px,#bb0636 0 114px,#bb2354 0 133px,#bb4272 0 152px,#bb6596 0 171px,#883397 0 190px,#7c2797 0 209px,#762297 0 228px,#752097 0 247px,#741f97 0 266px,#731e97 0 285px,#721d97 0 304px,#701c97 0 342px,#610c97 0 361px,#5e0997 0 380px,#5a0697 0 570px,#1414ff 0 589px,#1010ff 0 608px,#0f0fff 0 627px,#1010ff 0 646px,#1212ff 0 665px,#1414ff 0)"></i>
<svg class="sl" width="684" height="1215" viewBox="0 0 684 1215"><circle cx="276.5" cy="9.4" r="1.45"/><circle cx="278.2" cy="28.3" r="1.45"/><circle cx="282.3" cy="47.4" r="1.45"/><circle cx="286.3" cy="66.3" r="1.45"/><circle cx="289.5" cy="85.4" r="1.45"/><circle cx="293.9" cy="104.6" r="1.45"/><circle cx="294.3" cy="106.2" r="1.45"/><circle cx="300.5" cy="123.4" r="1.45"/><circle cx="305.4" cy="142.5" r="1.45"/><circle cx="311.2" cy="161.4" r="1.45"/><circle cx="313.6" cy="166.3" r="1.45"/><circle cx="319.4" cy="180.5" r="1.45"/><circle cx="331.5" cy="199.0" r="1.45"/><circle cx="332.7" cy="201.1" r="1.45"/><circle cx="347.2" cy="218.5" r="1.45"/><circle cx="351.3" cy="223.4" r="1.45"/><circle cx="365.5" cy="237.3" r="1.45"/><circle cx="370.4" cy="243.4" r="1.45"/><circle cx="381.4" cy="256.2" r="1.45"/><circle cx="389.2" cy="265.2" r="1.45"/><circle cx="401.7" cy="275.3" r="1.45"/><circle cx="408.4" cy="289.2" r="1.45"/><circle cx="420.5" cy="294.3" r="1.45"/><circle cx="419.4" cy="313.0" r="1.45"/><circle cx="408.8" cy="332.5" r="1.45"/><circle cx="408.0" cy="333.3" r="1.45"/><circle cx="393.3" cy="351.4" r="1.45"/><circle cx="389.3" cy="356.3" r="1.45"/><circle cx="378.5" cy="370.3" r="1.45"/><circle cx="370.4" cy="383.3" r="1.45"/><circle cx="367.2" cy="389.4" r="1.45"/><circle cx="359.1" cy="408.2" r="1.45"/><circle cx="353.3" cy="427.4" r="1.45"/><circle cx="354.5" cy="446.5" r="1.45"/><circle cx="362.3" cy="465.4" r="1.45"/><circle cx="370.4" cy="477.2" r="1.45"/><circle cx="376.2" cy="484.5" r="1.45"/><circle cx="389.5" cy="501.6" r="1.45"/><circle cx="391.3" cy="503.3" r="1.45"/><circle cx="404.3" cy="522.5" r="1.45"/><circle cx="408.4" cy="528.3" r="1.45"/><circle cx="415.3" cy="541.3" r="1.45"/><circle cx="419.4" cy="560.2" r="1.45"/><circle cx="417.4" cy="579.3" r="1.45"/><circle cx="415.3" cy="598.4" r="1.45"/><circle cx="410.4" cy="617.0" r="1.45"/><circle cx="408.4" cy="622.4" r="1.45"/><circle cx="401.1" cy="636.3" r="1.45"/><circle cx="389.2" cy="648.4" r="1.45"/><circle cx="383.2" cy="655.4" r="1.45"/><circle cx="370.4" cy="671.6" r="1.45"/><circle cx="367.2" cy="674.5" r="1.45"/><circle cx="351.1" cy="692.4" r="1.45"/><circle cx="350.3" cy="693.2" r="1.45"/><circle cx="332.2" cy="711.5" r="1.45"/><circle cx="331.4" cy="712.3" r="1.45"/><circle cx="316.5" cy="731.4" r="1.45"/><circle cx="313.3" cy="737.5" r="1.45"/><circle cx="308.4" cy="750.5" r="1.45"/><circle cx="301.4" cy="769.4" r="1.45"/><circle cx="294.4" cy="787.9" r="1.45"/><circle cx="287.2" cy="807.3" r="1.45"/><circle cx="283.4" cy="826.5" r="1.45"/><circle cx="282.3" cy="845.3" r="1.45"/><circle cx="279.4" cy="864.2" r="1.45"/><circle cx="275.3" cy="880.1" r="1.45"/><circle cx="274.1" cy="883.6" r="1.45"/><circle cx="269.2" cy="902.4" r="1.45"/><circle cx="260.2" cy="921.0" r="1.45"/><circle cx="256.2" cy="926.4" r="1.45"/><circle cx="248.3" cy="940.6" r="1.45"/><circle cx="240.2" cy="959.4" r="1.45"/><circle cx="237.0" cy="965.2" r="1.45"/><circle cx="231.2" cy="978.3" r="1.45"/><circle cx="222.2" cy="997.4" r="1.45"/><circle cx="218.2" cy="1003.2" r="1.45"/><circle cx="212.1" cy="1016.2" r="1.45"/><circle cx="206.3" cy="1035.4" r="1.45"/><circle cx="201.4" cy="1054.5" r="1.45"/><circle cx="199.3" cy="1066.4" r="1.45"/><circle cx="198.2" cy="1073.4" r="1.45"/><circle cx="195.3" cy="1092.5" r="1.45"/><circle cx="191.2" cy="1111.3" r="1.45"/><circle cx="186.3" cy="1130.5" r="1.45"/><circle cx="180.2" cy="1143.2" r="1.45"/><circle cx="177.3" cy="1149.3" r="1.45"/><circle cx="168.3" cy="1168.2" r="1.45"/><circle cx="161.1" cy="1184.1" r="1.45"/><circle cx="160.2" cy="1187.3" r="1.45"/><circle cx="156.1" cy="1206.1" r="1.45"/></svg>
</div>
</body>
</html>
